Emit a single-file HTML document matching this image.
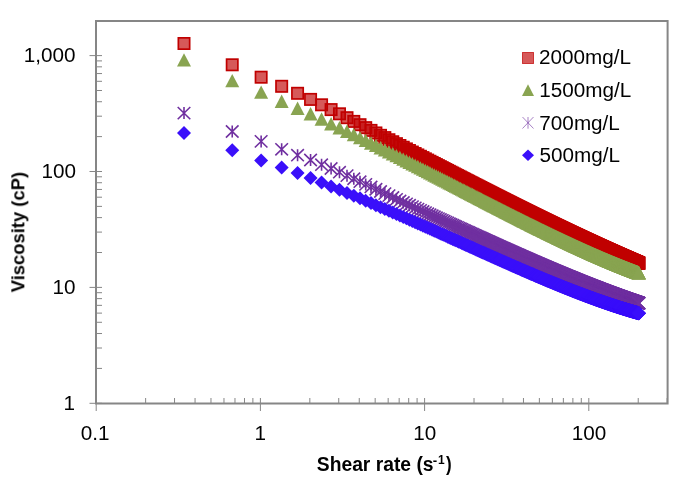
<!DOCTYPE html>
<html><head><meta charset="utf-8"><style>
html,body{margin:0;padding:0;background:#fff;}
svg{display:block;}
</style></head><body>
<svg width="700" height="485" viewBox="0 0 700 485">
<defs>
<rect id="s" x="-5.65" y="-5.65" width="11.3" height="11.3" fill="rgba(192,0,0,0.65)" stroke="#c00000" stroke-width="1.7"/>
<path id="t" d="M0 -6.7L7 6.7H-7Z" fill="#89a451"/>
<path id="a" d="M-6.3 -6.1L6.3 6.1M6.3 -6.1L-6.3 6.1M0 -6V6" stroke="#7030a0" stroke-width="1.6" fill="none"/>
<path id="d" d="M0 -7L7 0L0 7L-7 0Z" fill="#3a0ffa"/>
</defs>
<path d="M96.2 398V411M145.63 398V403M174.54 398V403M195.06 398V403M210.97 398V403M223.97 398V403M234.97 398V403M244.49 398V403M252.89 398V403M260.4 398V411M309.83 398V403M338.74 398V403M359.26 398V403M375.17 398V403M388.17 398V403M399.17 398V403M408.69 398V403M417.09 398V403M424.6 398V411M474.03 398V403M502.94 398V403M523.46 398V403M539.37 398V403M552.37 398V403M563.37 398V403M572.89 398V403M581.29 398V403M588.8 398V411M638.23 398V403M667.14 398V403M89.5 403.3H102M96 368.41H102M96 348H102M96 333.52H102M96 322.29H102M96 313.11H102M96 305.35H102M96 298.63H102M96 292.7H102M89.5 287.4H102M96 252.51H102M96 232.1H102M96 217.62H102M96 206.39H102M96 197.21H102M96 189.45H102M96 182.73H102M96 176.8H102M89.5 171.5H102M96 136.61H102M96 116.2H102M96 101.72H102M96 90.49H102M96 81.31H102M96 73.55H102M96 66.83H102M96 60.9H102M89.5 55.6H102M96 20.71H102" stroke="#868686" stroke-width="1" fill="none"/>
<path d="M96 21H667.6V403.4H96Z" stroke="#868686" stroke-width="2" fill="none"/>
<g>
<use href="#s" x="184" y="43.5"/>
<use href="#s" x="232.23" y="64.8"/>
<use href="#s" x="261.14" y="77.2"/>
<use href="#s" x="281.66" y="86.3"/>
<use href="#s" x="297.57" y="93.3"/>
<use href="#s" x="310.57" y="99.4"/>
<use href="#s" x="321.57" y="104.8"/>
<use href="#s" x="331.09" y="109.6"/>
<use href="#s" x="339.49" y="113.8"/>
<use href="#s" x="347" y="117.7"/>
<use href="#s" x="353.8" y="121.4"/>
<use href="#s" x="360" y="124.7"/>
<use href="#s" x="365.71" y="127.65"/>
<use href="#s" x="370.99" y="130.39"/>
<use href="#s" x="375.91" y="132.95"/>
<use href="#s" x="380.52" y="135.34"/>
<use href="#s" x="384.84" y="137.6"/>
<use href="#s" x="388.92" y="139.73"/>
<use href="#s" x="392.77" y="141.75"/>
<use href="#s" x="396.43" y="143.67"/>
<use href="#s" x="399.91" y="145.5"/>
<use href="#s" x="403.23" y="147.25"/>
<use href="#s" x="406.4" y="148.91"/>
<use href="#s" x="409.43" y="150.51"/>
<use href="#s" x="412.34" y="152.05"/>
<use href="#s" x="415.14" y="153.52"/>
<use href="#s" x="417.83" y="154.93"/>
<use href="#s" x="420.42" y="156.28"/>
<use href="#s" x="422.93" y="157.59"/>
<use href="#s" x="425.34" y="158.85"/>
<use href="#s" x="427.68" y="160.07"/>
<use href="#s" x="429.95" y="161.25"/>
<use href="#s" x="432.14" y="162.39"/>
<use href="#s" x="434.27" y="163.5"/>
<use href="#s" x="436.34" y="164.58"/>
<use href="#s" x="438.34" y="165.63"/>
<use href="#s" x="440.3" y="166.64"/>
<use href="#s" x="442.2" y="167.63"/>
<use href="#s" x="444.05" y="168.6"/>
<use href="#s" x="445.86" y="169.54"/>
<use href="#s" x="447.62" y="170.45"/>
<use href="#s" x="449.34" y="171.35"/>
<use href="#s" x="451.02" y="172.22"/>
<use href="#s" x="452.65" y="173.07"/>
<use href="#s" x="454.26" y="173.9"/>
<use href="#s" x="455.82" y="174.72"/>
<use href="#s" x="457.36" y="175.51"/>
<use href="#s" x="458.86" y="176.29"/>
<use href="#s" x="460.33" y="177.05"/>
<use href="#s" x="461.77" y="177.8"/>
<use href="#s" x="463.18" y="178.53"/>
<use href="#s" x="464.57" y="179.25"/>
<use href="#s" x="465.93" y="179.95"/>
<use href="#s" x="467.26" y="180.64"/>
<use href="#s" x="468.57" y="181.31"/>
<use href="#s" x="469.85" y="181.98"/>
<use href="#s" x="471.11" y="182.63"/>
<use href="#s" x="472.35" y="183.27"/>
<use href="#s" x="473.57" y="183.9"/>
<use href="#s" x="474.77" y="184.52"/>
<use href="#s" x="475.95" y="185.12"/>
<use href="#s" x="477.11" y="185.72"/>
<use href="#s" x="478.25" y="186.31"/>
<use href="#s" x="479.37" y="186.88"/>
<use href="#s" x="480.48" y="187.45"/>
<use href="#s" x="481.57" y="188.01"/>
<use href="#s" x="482.64" y="188.56"/>
<use href="#s" x="483.7" y="189.1"/>
<use href="#s" x="484.74" y="189.64"/>
<use href="#s" x="485.77" y="190.16"/>
<use href="#s" x="486.78" y="190.68"/>
<use href="#s" x="487.77" y="191.19"/>
<use href="#s" x="488.76" y="191.69"/>
<use href="#s" x="489.73" y="192.19"/>
<use href="#s" x="490.69" y="192.68"/>
<use href="#s" x="491.63" y="193.16"/>
<use href="#s" x="492.56" y="193.64"/>
<use href="#s" x="493.48" y="194.11"/>
<use href="#s" x="494.39" y="194.57"/>
<use href="#s" x="495.29" y="195.03"/>
<use href="#s" x="496.17" y="195.48"/>
<use href="#s" x="497.05" y="195.92"/>
<use href="#s" x="497.91" y="196.36"/>
<use href="#s" x="498.77" y="196.8"/>
<use href="#s" x="499.61" y="197.23"/>
<use href="#s" x="500.44" y="197.65"/>
<use href="#s" x="501.27" y="198.07"/>
<use href="#s" x="502.08" y="198.48"/>
<use href="#s" x="502.89" y="198.89"/>
<use href="#s" x="503.69" y="199.29"/>
<use href="#s" x="504.47" y="199.69"/>
<use href="#s" x="505.25" y="200.09"/>
<use href="#s" x="506.02" y="200.48"/>
<use href="#s" x="506.79" y="200.86"/>
<use href="#s" x="507.54" y="201.24"/>
<use href="#s" x="508.29" y="201.62"/>
<use href="#s" x="509.03" y="201.99"/>
<use href="#s" x="509.76" y="202.36"/>
<use href="#s" x="510.48" y="202.73"/>
<use href="#s" x="511.2" y="203.09"/>
<use href="#s" x="511.91" y="203.45"/>
<use href="#s" x="512.61" y="203.8"/>
<use href="#s" x="513.31" y="204.15"/>
<use href="#s" x="514" y="204.5"/>
<use href="#s" x="514.68" y="204.84"/>
<use href="#s" x="515.36" y="205.18"/>
<use href="#s" x="516.02" y="205.52"/>
<use href="#s" x="516.69" y="205.85"/>
<use href="#s" x="517.35" y="206.18"/>
<use href="#s" x="518" y="206.5"/>
<use href="#s" x="518.64" y="206.83"/>
<use href="#s" x="519.28" y="207.15"/>
<use href="#s" x="519.92" y="207.46"/>
<use href="#s" x="520.54" y="207.78"/>
<use href="#s" x="521.17" y="208.09"/>
<use href="#s" x="521.78" y="208.4"/>
<use href="#s" x="522.4" y="208.7"/>
<use href="#s" x="523" y="209.01"/>
<use href="#s" x="523.6" y="209.31"/>
<use href="#s" x="524.2" y="209.61"/>
<use href="#s" x="524.79" y="209.9"/>
<use href="#s" x="525.38" y="210.19"/>
<use href="#s" x="525.96" y="210.48"/>
<use href="#s" x="526.54" y="210.77"/>
<use href="#s" x="527.11" y="211.05"/>
<use href="#s" x="527.68" y="211.34"/>
<use href="#s" x="528.24" y="211.62"/>
<use href="#s" x="528.8" y="211.9"/>
<use href="#s" x="529.36" y="212.17"/>
<use href="#s" x="529.91" y="212.44"/>
<use href="#s" x="530.46" y="212.72"/>
<use href="#s" x="531" y="212.98"/>
<use href="#s" x="531.54" y="213.25"/>
<use href="#s" x="532.07" y="213.52"/>
<use href="#s" x="532.6" y="213.78"/>
<use href="#s" x="533.13" y="214.04"/>
<use href="#s" x="533.65" y="214.3"/>
<use href="#s" x="534.17" y="214.55"/>
<use href="#s" x="534.68" y="214.81"/>
<use href="#s" x="535.19" y="215.06"/>
<use href="#s" x="535.7" y="215.31"/>
<use href="#s" x="536.21" y="215.56"/>
<use href="#s" x="536.71" y="215.81"/>
<use href="#s" x="537.2" y="216.05"/>
<use href="#s" x="537.7" y="216.29"/>
<use href="#s" x="538.19" y="216.53"/>
<use href="#s" x="538.67" y="216.77"/>
<use href="#s" x="539.16" y="217.01"/>
<use href="#s" x="539.64" y="217.25"/>
<use href="#s" x="540.11" y="217.48"/>
<use href="#s" x="540.59" y="217.72"/>
<use href="#s" x="541.06" y="217.95"/>
<use href="#s" x="541.53" y="218.18"/>
<use href="#s" x="541.99" y="218.4"/>
<use href="#s" x="542.45" y="218.63"/>
<use href="#s" x="542.91" y="218.85"/>
<use href="#s" x="543.37" y="219.08"/>
<use href="#s" x="543.82" y="219.3"/>
<use href="#s" x="544.27" y="219.52"/>
<use href="#s" x="544.72" y="219.74"/>
<use href="#s" x="545.16" y="219.96"/>
<use href="#s" x="545.6" y="220.17"/>
<use href="#s" x="546.04" y="220.39"/>
<use href="#s" x="546.48" y="220.6"/>
<use href="#s" x="546.91" y="220.81"/>
<use href="#s" x="547.34" y="221.02"/>
<use href="#s" x="547.77" y="221.23"/>
<use href="#s" x="548.2" y="221.44"/>
<use href="#s" x="548.62" y="221.64"/>
<use href="#s" x="549.04" y="221.85"/>
<use href="#s" x="549.46" y="222.05"/>
<use href="#s" x="549.87" y="222.25"/>
<use href="#s" x="550.29" y="222.46"/>
<use href="#s" x="550.7" y="222.65"/>
<use href="#s" x="551.11" y="222.85"/>
<use href="#s" x="551.51" y="223.05"/>
<use href="#s" x="551.92" y="223.25"/>
<use href="#s" x="552.32" y="223.44"/>
<use href="#s" x="552.72" y="223.64"/>
<use href="#s" x="553.12" y="223.83"/>
<use href="#s" x="553.51" y="224.02"/>
<use href="#s" x="553.9" y="224.21"/>
<use href="#s" x="554.29" y="224.4"/>
<use href="#s" x="554.68" y="224.59"/>
<use href="#s" x="555.07" y="224.77"/>
<use href="#s" x="555.45" y="224.96"/>
<use href="#s" x="555.84" y="225.15"/>
<use href="#s" x="556.22" y="225.33"/>
<use href="#s" x="556.6" y="225.51"/>
<use href="#s" x="556.97" y="225.69"/>
<use href="#s" x="557.35" y="225.87"/>
<use href="#s" x="557.72" y="226.05"/>
<use href="#s" x="558.09" y="226.23"/>
<use href="#s" x="558.46" y="226.41"/>
<use href="#s" x="558.82" y="226.59"/>
<use href="#s" x="559.19" y="226.76"/>
<use href="#s" x="559.55" y="226.94"/>
<use href="#s" x="559.91" y="227.11"/>
<use href="#s" x="560.27" y="227.28"/>
<use href="#s" x="560.63" y="227.46"/>
<use href="#s" x="560.98" y="227.63"/>
<use href="#s" x="561.34" y="227.8"/>
<use href="#s" x="561.69" y="227.97"/>
<use href="#s" x="562.04" y="228.13"/>
<use href="#s" x="562.39" y="228.3"/>
<use href="#s" x="562.74" y="228.47"/>
<use href="#s" x="563.08" y="228.63"/>
<use href="#s" x="563.43" y="228.8"/>
<use href="#s" x="563.77" y="228.96"/>
<use href="#s" x="564.11" y="229.12"/>
<use href="#s" x="564.45" y="229.29"/>
<use href="#s" x="564.78" y="229.45"/>
<use href="#s" x="565.12" y="229.61"/>
<use href="#s" x="565.45" y="229.77"/>
<use href="#s" x="565.79" y="229.93"/>
<use href="#s" x="566.12" y="230.09"/>
<use href="#s" x="566.45" y="230.24"/>
<use href="#s" x="566.77" y="230.4"/>
<use href="#s" x="567.1" y="230.56"/>
<use href="#s" x="567.43" y="230.71"/>
<use href="#s" x="567.75" y="230.86"/>
<use href="#s" x="568.07" y="231.02"/>
<use href="#s" x="568.39" y="231.17"/>
<use href="#s" x="568.71" y="231.32"/>
<use href="#s" x="569.03" y="231.47"/>
<use href="#s" x="569.34" y="231.62"/>
<use href="#s" x="569.66" y="231.77"/>
<use href="#s" x="569.97" y="231.92"/>
<use href="#s" x="570.28" y="232.07"/>
<use href="#s" x="570.6" y="232.22"/>
<use href="#s" x="570.91" y="232.37"/>
<use href="#s" x="571.21" y="232.51"/>
<use href="#s" x="571.52" y="232.66"/>
<use href="#s" x="571.83" y="232.8"/>
<use href="#s" x="572.13" y="232.95"/>
<use href="#s" x="572.43" y="233.09"/>
<use href="#s" x="572.73" y="233.23"/>
<use href="#s" x="573.03" y="233.38"/>
<use href="#s" x="573.33" y="233.52"/>
<use href="#s" x="573.63" y="233.66"/>
<use href="#s" x="573.93" y="233.8"/>
<use href="#s" x="574.22" y="233.94"/>
<use href="#s" x="574.52" y="234.08"/>
<use href="#s" x="574.81" y="234.22"/>
<use href="#s" x="575.1" y="234.35"/>
<use href="#s" x="575.39" y="234.49"/>
<use href="#s" x="575.68" y="234.63"/>
<use href="#s" x="575.97" y="234.76"/>
<use href="#s" x="576.26" y="234.9"/>
<use href="#s" x="576.54" y="235.03"/>
<use href="#s" x="576.83" y="235.17"/>
<use href="#s" x="577.11" y="235.3"/>
<use href="#s" x="577.39" y="235.43"/>
<use href="#s" x="577.67" y="235.57"/>
<use href="#s" x="577.95" y="235.7"/>
<use href="#s" x="578.23" y="235.83"/>
<use href="#s" x="578.51" y="235.96"/>
<use href="#s" x="578.79" y="236.09"/>
<use href="#s" x="579.06" y="236.22"/>
<use href="#s" x="579.34" y="236.35"/>
<use href="#s" x="579.61" y="236.48"/>
<use href="#s" x="579.89" y="236.61"/>
<use href="#s" x="580.16" y="236.73"/>
<use href="#s" x="580.43" y="236.86"/>
<use href="#s" x="580.7" y="236.99"/>
<use href="#s" x="580.97" y="237.11"/>
<use href="#s" x="581.23" y="237.24"/>
<use href="#s" x="581.5" y="237.36"/>
<use href="#s" x="581.77" y="237.49"/>
<use href="#s" x="582.03" y="237.61"/>
<use href="#s" x="582.29" y="237.74"/>
<use href="#s" x="582.56" y="237.86"/>
<use href="#s" x="582.82" y="237.98"/>
<use href="#s" x="583.08" y="238.1"/>
<use href="#s" x="583.34" y="238.23"/>
<use href="#s" x="583.6" y="238.35"/>
<use href="#s" x="583.86" y="238.47"/>
<use href="#s" x="584.11" y="238.59"/>
<use href="#s" x="584.37" y="238.71"/>
<use href="#s" x="584.62" y="238.83"/>
<use href="#s" x="584.88" y="238.94"/>
<use href="#s" x="585.13" y="239.06"/>
<use href="#s" x="585.38" y="239.18"/>
<use href="#s" x="585.63" y="239.3"/>
<use href="#s" x="585.89" y="239.41"/>
<use href="#s" x="586.14" y="239.53"/>
<use href="#s" x="586.38" y="239.65"/>
<use href="#s" x="586.63" y="239.76"/>
<use href="#s" x="586.88" y="239.88"/>
<use href="#s" x="587.13" y="239.99"/>
<use href="#s" x="587.37" y="240.11"/>
<use href="#s" x="587.62" y="240.22"/>
<use href="#s" x="587.86" y="240.33"/>
<use href="#s" x="588.1" y="240.45"/>
<use href="#s" x="588.34" y="240.56"/>
<use href="#s" x="588.59" y="240.67"/>
<use href="#s" x="588.83" y="240.78"/>
<use href="#s" x="589.07" y="240.89"/>
<use href="#s" x="589.31" y="241"/>
<use href="#s" x="589.54" y="241.11"/>
<use href="#s" x="589.78" y="241.22"/>
<use href="#s" x="590.02" y="241.33"/>
<use href="#s" x="590.25" y="241.44"/>
<use href="#s" x="590.49" y="241.55"/>
<use href="#s" x="590.72" y="241.66"/>
<use href="#s" x="590.96" y="241.77"/>
<use href="#s" x="591.19" y="241.88"/>
<use href="#s" x="591.42" y="241.98"/>
<use href="#s" x="591.65" y="242.09"/>
<use href="#s" x="591.88" y="242.2"/>
<use href="#s" x="592.11" y="242.3"/>
<use href="#s" x="592.34" y="242.41"/>
<use href="#s" x="592.57" y="242.51"/>
<use href="#s" x="592.8" y="242.62"/>
<use href="#s" x="593.02" y="242.72"/>
<use href="#s" x="593.25" y="242.83"/>
<use href="#s" x="593.47" y="242.93"/>
<use href="#s" x="593.7" y="243.04"/>
<use href="#s" x="593.92" y="243.14"/>
<use href="#s" x="594.15" y="243.24"/>
<use href="#s" x="594.37" y="243.34"/>
<use href="#s" x="594.59" y="243.45"/>
<use href="#s" x="594.81" y="243.55"/>
<use href="#s" x="595.03" y="243.65"/>
<use href="#s" x="595.25" y="243.75"/>
<use href="#s" x="595.47" y="243.85"/>
<use href="#s" x="595.69" y="243.95"/>
<use href="#s" x="595.91" y="244.05"/>
<use href="#s" x="596.12" y="244.15"/>
<use href="#s" x="596.34" y="244.25"/>
<use href="#s" x="596.56" y="244.35"/>
<use href="#s" x="596.77" y="244.45"/>
<use href="#s" x="596.99" y="244.55"/>
<use href="#s" x="597.2" y="244.64"/>
<use href="#s" x="597.41" y="244.74"/>
<use href="#s" x="597.62" y="244.84"/>
<use href="#s" x="597.84" y="244.94"/>
<use href="#s" x="598.05" y="245.03"/>
<use href="#s" x="598.26" y="245.13"/>
<use href="#s" x="598.47" y="245.23"/>
<use href="#s" x="598.68" y="245.32"/>
<use href="#s" x="598.89" y="245.42"/>
<use href="#s" x="599.1" y="245.51"/>
<use href="#s" x="599.3" y="245.61"/>
<use href="#s" x="599.51" y="245.7"/>
<use href="#s" x="599.72" y="245.8"/>
<use href="#s" x="599.92" y="245.89"/>
<use href="#s" x="600.13" y="245.98"/>
<use href="#s" x="600.33" y="246.08"/>
<use href="#s" x="600.54" y="246.17"/>
<use href="#s" x="600.74" y="246.26"/>
<use href="#s" x="600.94" y="246.36"/>
<use href="#s" x="601.14" y="246.45"/>
<use href="#s" x="601.35" y="246.54"/>
<use href="#s" x="601.55" y="246.63"/>
<use href="#s" x="601.75" y="246.72"/>
<use href="#s" x="601.95" y="246.82"/>
<use href="#s" x="602.15" y="246.91"/>
<use href="#s" x="602.35" y="247"/>
<use href="#s" x="602.54" y="247.09"/>
<use href="#s" x="602.74" y="247.18"/>
<use href="#s" x="602.94" y="247.27"/>
<use href="#s" x="603.14" y="247.36"/>
<use href="#s" x="603.33" y="247.45"/>
<use href="#s" x="603.53" y="247.53"/>
<use href="#s" x="603.72" y="247.62"/>
<use href="#s" x="603.92" y="247.71"/>
<use href="#s" x="604.11" y="247.8"/>
<use href="#s" x="604.31" y="247.89"/>
<use href="#s" x="604.5" y="247.98"/>
<use href="#s" x="604.69" y="248.06"/>
<use href="#s" x="604.88" y="248.15"/>
<use href="#s" x="605.07" y="248.24"/>
<use href="#s" x="605.27" y="248.32"/>
<use href="#s" x="605.46" y="248.41"/>
<use href="#s" x="605.65" y="248.5"/>
<use href="#s" x="605.84" y="248.58"/>
<use href="#s" x="606.02" y="248.67"/>
<use href="#s" x="606.21" y="248.75"/>
<use href="#s" x="606.4" y="248.84"/>
<use href="#s" x="606.59" y="248.92"/>
<use href="#s" x="606.77" y="249.01"/>
<use href="#s" x="606.96" y="249.09"/>
<use href="#s" x="607.15" y="249.17"/>
<use href="#s" x="607.33" y="249.26"/>
<use href="#s" x="607.52" y="249.34"/>
<use href="#s" x="607.7" y="249.43"/>
<use href="#s" x="607.89" y="249.51"/>
<use href="#s" x="608.07" y="249.59"/>
<use href="#s" x="608.25" y="249.67"/>
<use href="#s" x="608.44" y="249.76"/>
<use href="#s" x="608.62" y="249.84"/>
<use href="#s" x="608.8" y="249.92"/>
<use href="#s" x="608.98" y="250"/>
<use href="#s" x="609.16" y="250.08"/>
<use href="#s" x="609.34" y="250.16"/>
<use href="#s" x="609.52" y="250.25"/>
<use href="#s" x="609.7" y="250.33"/>
<use href="#s" x="609.88" y="250.41"/>
<use href="#s" x="610.06" y="250.49"/>
<use href="#s" x="610.24" y="250.57"/>
<use href="#s" x="610.41" y="250.65"/>
<use href="#s" x="610.59" y="250.73"/>
<use href="#s" x="610.77" y="250.81"/>
<use href="#s" x="610.94" y="250.89"/>
<use href="#s" x="611.12" y="250.96"/>
<use href="#s" x="611.3" y="251.04"/>
<use href="#s" x="611.47" y="251.12"/>
<use href="#s" x="611.64" y="251.2"/>
<use href="#s" x="611.82" y="251.28"/>
<use href="#s" x="611.99" y="251.36"/>
<use href="#s" x="612.17" y="251.43"/>
<use href="#s" x="612.34" y="251.51"/>
<use href="#s" x="612.51" y="251.59"/>
<use href="#s" x="612.68" y="251.67"/>
<use href="#s" x="612.86" y="251.74"/>
<use href="#s" x="613.03" y="251.82"/>
<use href="#s" x="613.2" y="251.9"/>
<use href="#s" x="613.37" y="251.97"/>
<use href="#s" x="613.54" y="252.05"/>
<use href="#s" x="613.71" y="252.12"/>
<use href="#s" x="613.88" y="252.2"/>
<use href="#s" x="614.05" y="252.28"/>
<use href="#s" x="614.21" y="252.35"/>
<use href="#s" x="614.38" y="252.43"/>
<use href="#s" x="614.55" y="252.5"/>
<use href="#s" x="614.72" y="252.58"/>
<use href="#s" x="614.88" y="252.65"/>
<use href="#s" x="615.05" y="252.72"/>
<use href="#s" x="615.22" y="252.8"/>
<use href="#s" x="615.38" y="252.87"/>
<use href="#s" x="615.55" y="252.95"/>
<use href="#s" x="615.71" y="253.02"/>
<use href="#s" x="615.88" y="253.09"/>
<use href="#s" x="616.04" y="253.17"/>
<use href="#s" x="616.2" y="253.24"/>
<use href="#s" x="616.37" y="253.31"/>
<use href="#s" x="616.53" y="253.39"/>
<use href="#s" x="616.69" y="253.46"/>
<use href="#s" x="616.85" y="253.53"/>
<use href="#s" x="617.02" y="253.6"/>
<use href="#s" x="617.18" y="253.67"/>
<use href="#s" x="617.34" y="253.75"/>
<use href="#s" x="617.5" y="253.82"/>
<use href="#s" x="617.66" y="253.89"/>
<use href="#s" x="617.82" y="253.96"/>
<use href="#s" x="617.98" y="254.03"/>
<use href="#s" x="618.14" y="254.1"/>
<use href="#s" x="618.3" y="254.17"/>
<use href="#s" x="618.46" y="254.24"/>
<use href="#s" x="618.62" y="254.31"/>
<use href="#s" x="618.77" y="254.38"/>
<use href="#s" x="618.93" y="254.45"/>
<use href="#s" x="619.09" y="254.52"/>
<use href="#s" x="619.25" y="254.59"/>
<use href="#s" x="619.4" y="254.66"/>
<use href="#s" x="619.56" y="254.73"/>
<use href="#s" x="619.71" y="254.8"/>
<use href="#s" x="619.87" y="254.87"/>
<use href="#s" x="620.02" y="254.94"/>
<use href="#s" x="620.18" y="255.01"/>
<use href="#s" x="620.33" y="255.07"/>
<use href="#s" x="620.49" y="255.14"/>
<use href="#s" x="620.64" y="255.21"/>
<use href="#s" x="620.8" y="255.28"/>
<use href="#s" x="620.95" y="255.35"/>
<use href="#s" x="621.1" y="255.41"/>
<use href="#s" x="621.25" y="255.48"/>
<use href="#s" x="621.41" y="255.55"/>
<use href="#s" x="621.56" y="255.62"/>
<use href="#s" x="621.71" y="255.68"/>
<use href="#s" x="621.86" y="255.75"/>
<use href="#s" x="622.01" y="255.82"/>
<use href="#s" x="622.16" y="255.88"/>
<use href="#s" x="622.31" y="255.95"/>
<use href="#s" x="622.46" y="256.02"/>
<use href="#s" x="622.61" y="256.08"/>
<use href="#s" x="622.76" y="256.15"/>
<use href="#s" x="622.91" y="256.21"/>
<use href="#s" x="623.06" y="256.28"/>
<use href="#s" x="623.21" y="256.34"/>
<use href="#s" x="623.36" y="256.41"/>
<use href="#s" x="623.5" y="256.47"/>
<use href="#s" x="623.65" y="256.54"/>
<use href="#s" x="623.8" y="256.6"/>
<use href="#s" x="623.95" y="256.67"/>
<use href="#s" x="624.09" y="256.73"/>
<use href="#s" x="624.24" y="256.8"/>
<use href="#s" x="624.38" y="256.86"/>
<use href="#s" x="624.53" y="256.93"/>
<use href="#s" x="624.68" y="256.99"/>
<use href="#s" x="624.82" y="257.05"/>
<use href="#s" x="624.97" y="257.12"/>
<use href="#s" x="625.11" y="257.18"/>
<use href="#s" x="625.25" y="257.24"/>
<use href="#s" x="625.4" y="257.31"/>
<use href="#s" x="625.54" y="257.37"/>
<use href="#s" x="625.69" y="257.43"/>
<use href="#s" x="625.83" y="257.5"/>
<use href="#s" x="625.97" y="257.56"/>
<use href="#s" x="626.11" y="257.62"/>
<use href="#s" x="626.26" y="257.68"/>
<use href="#s" x="626.4" y="257.75"/>
<use href="#s" x="626.54" y="257.81"/>
<use href="#s" x="626.68" y="257.87"/>
<use href="#s" x="626.82" y="257.93"/>
<use href="#s" x="626.96" y="257.99"/>
<use href="#s" x="627.1" y="258.05"/>
<use href="#s" x="627.24" y="258.12"/>
<use href="#s" x="627.38" y="258.18"/>
<use href="#s" x="627.52" y="258.24"/>
<use href="#s" x="627.66" y="258.3"/>
<use href="#s" x="627.8" y="258.36"/>
<use href="#s" x="627.94" y="258.42"/>
<use href="#s" x="628.08" y="258.48"/>
<use href="#s" x="628.22" y="258.54"/>
<use href="#s" x="628.36" y="258.6"/>
<use href="#s" x="628.49" y="258.66"/>
<use href="#s" x="628.63" y="258.72"/>
<use href="#s" x="628.77" y="258.78"/>
<use href="#s" x="628.9" y="258.84"/>
<use href="#s" x="629.04" y="258.9"/>
<use href="#s" x="629.18" y="258.96"/>
<use href="#s" x="629.31" y="259.02"/>
<use href="#s" x="629.45" y="259.08"/>
<use href="#s" x="629.59" y="259.14"/>
<use href="#s" x="629.72" y="259.2"/>
<use href="#s" x="629.86" y="259.26"/>
<use href="#s" x="629.99" y="259.32"/>
<use href="#s" x="630.13" y="259.38"/>
<use href="#s" x="630.26" y="259.43"/>
<use href="#s" x="630.39" y="259.49"/>
<use href="#s" x="630.53" y="259.55"/>
<use href="#s" x="630.66" y="259.61"/>
<use href="#s" x="630.8" y="259.67"/>
<use href="#s" x="630.93" y="259.72"/>
<use href="#s" x="631.06" y="259.78"/>
<use href="#s" x="631.19" y="259.84"/>
<use href="#s" x="631.33" y="259.9"/>
<use href="#s" x="631.46" y="259.96"/>
<use href="#s" x="631.59" y="260.01"/>
<use href="#s" x="631.72" y="260.07"/>
<use href="#s" x="631.85" y="260.13"/>
<use href="#s" x="631.99" y="260.18"/>
<use href="#s" x="632.12" y="260.24"/>
<use href="#s" x="632.25" y="260.3"/>
<use href="#s" x="632.38" y="260.35"/>
<use href="#s" x="632.51" y="260.41"/>
<use href="#s" x="632.64" y="260.47"/>
<use href="#s" x="632.77" y="260.52"/>
<use href="#s" x="632.9" y="260.58"/>
<use href="#s" x="633.03" y="260.64"/>
<use href="#s" x="633.16" y="260.69"/>
<use href="#s" x="633.28" y="260.75"/>
<use href="#s" x="633.41" y="260.8"/>
<use href="#s" x="633.54" y="260.86"/>
<use href="#s" x="633.67" y="260.91"/>
<use href="#s" x="633.8" y="260.97"/>
<use href="#s" x="633.93" y="261.02"/>
<use href="#s" x="634.05" y="261.08"/>
<use href="#s" x="634.18" y="261.13"/>
<use href="#s" x="634.31" y="261.19"/>
<use href="#s" x="634.43" y="261.24"/>
<use href="#s" x="634.56" y="261.3"/>
<use href="#s" x="634.69" y="261.35"/>
<use href="#s" x="634.81" y="261.41"/>
<use href="#s" x="634.94" y="261.46"/>
<use href="#s" x="635.06" y="261.52"/>
<use href="#s" x="635.19" y="261.57"/>
<use href="#s" x="635.31" y="261.63"/>
<use href="#s" x="635.44" y="261.68"/>
<use href="#s" x="635.56" y="261.73"/>
<use href="#s" x="635.69" y="261.79"/>
<use href="#s" x="635.81" y="261.84"/>
<use href="#s" x="635.94" y="261.89"/>
<use href="#s" x="636.06" y="261.95"/>
<use href="#s" x="636.19" y="262"/>
<use href="#s" x="636.31" y="262.05"/>
<use href="#s" x="636.43" y="262.11"/>
<use href="#s" x="636.55" y="262.16"/>
<use href="#s" x="636.68" y="262.21"/>
<use href="#s" x="636.8" y="262.27"/>
<use href="#s" x="636.92" y="262.32"/>
<use href="#s" x="637.04" y="262.37"/>
<use href="#s" x="637.17" y="262.42"/>
<use href="#s" x="637.29" y="262.48"/>
<use href="#s" x="637.41" y="262.53"/>
<use href="#s" x="637.53" y="262.58"/>
<use href="#s" x="637.65" y="262.63"/>
<use href="#s" x="637.77" y="262.68"/>
<use href="#s" x="637.89" y="262.74"/>
<use href="#s" x="638.02" y="262.79"/>
<use href="#s" x="638.14" y="262.84"/>
<use href="#s" x="638.26" y="262.89"/>
<use href="#s" x="638.38" y="262.94"/>
<use href="#s" x="638.5" y="262.99"/>
<use href="#s" x="638.61" y="263.05"/>
<use href="#s" x="638.73" y="263.1"/>
<use href="#s" x="638.85" y="263.15"/>
<use href="#s" x="638.97" y="263.2"/>
<use href="#t" x="184" y="59.9"/>
<use href="#t" x="232.23" y="80.6"/>
<use href="#t" x="261.14" y="92.1"/>
<use href="#t" x="281.66" y="101.3"/>
<use href="#t" x="297.57" y="108.3"/>
<use href="#t" x="310.57" y="113.8"/>
<use href="#t" x="321.57" y="119"/>
<use href="#t" x="331.09" y="123.7"/>
<use href="#t" x="339.49" y="127.69"/>
<use href="#t" x="347" y="131.29"/>
<use href="#t" x="353.8" y="134.57"/>
<use href="#t" x="360" y="137.58"/>
<use href="#t" x="365.71" y="140.38"/>
<use href="#t" x="370.99" y="142.98"/>
<use href="#t" x="375.91" y="145.41"/>
<use href="#t" x="380.52" y="147.69"/>
<use href="#t" x="384.84" y="149.85"/>
<use href="#t" x="388.92" y="151.89"/>
<use href="#t" x="392.77" y="153.82"/>
<use href="#t" x="396.43" y="155.66"/>
<use href="#t" x="399.91" y="157.41"/>
<use href="#t" x="403.23" y="159.09"/>
<use href="#t" x="406.4" y="160.69"/>
<use href="#t" x="409.43" y="162.23"/>
<use href="#t" x="412.34" y="163.71"/>
<use href="#t" x="415.14" y="165.14"/>
<use href="#t" x="417.83" y="166.51"/>
<use href="#t" x="420.42" y="167.83"/>
<use href="#t" x="422.93" y="169.11"/>
<use href="#t" x="425.34" y="170.35"/>
<use href="#t" x="427.68" y="171.55"/>
<use href="#t" x="429.95" y="172.71"/>
<use href="#t" x="432.14" y="173.83"/>
<use href="#t" x="434.27" y="174.93"/>
<use href="#t" x="436.34" y="175.99"/>
<use href="#t" x="438.34" y="177.02"/>
<use href="#t" x="440.3" y="178.03"/>
<use href="#t" x="442.2" y="179.01"/>
<use href="#t" x="444.05" y="179.96"/>
<use href="#t" x="445.86" y="180.89"/>
<use href="#t" x="447.62" y="181.8"/>
<use href="#t" x="449.34" y="182.69"/>
<use href="#t" x="451.02" y="183.55"/>
<use href="#t" x="452.65" y="184.4"/>
<use href="#t" x="454.26" y="185.22"/>
<use href="#t" x="455.82" y="186.03"/>
<use href="#t" x="457.36" y="186.83"/>
<use href="#t" x="458.86" y="187.6"/>
<use href="#t" x="460.33" y="188.36"/>
<use href="#t" x="461.77" y="189.1"/>
<use href="#t" x="463.18" y="189.83"/>
<use href="#t" x="464.57" y="190.55"/>
<use href="#t" x="465.93" y="191.25"/>
<use href="#t" x="467.26" y="191.94"/>
<use href="#t" x="468.57" y="192.61"/>
<use href="#t" x="469.85" y="193.27"/>
<use href="#t" x="471.11" y="193.93"/>
<use href="#t" x="472.35" y="194.57"/>
<use href="#t" x="473.57" y="195.19"/>
<use href="#t" x="474.77" y="195.81"/>
<use href="#t" x="475.95" y="196.42"/>
<use href="#t" x="477.11" y="197.02"/>
<use href="#t" x="478.25" y="197.61"/>
<use href="#t" x="479.37" y="198.19"/>
<use href="#t" x="480.48" y="198.75"/>
<use href="#t" x="481.57" y="199.32"/>
<use href="#t" x="482.64" y="199.87"/>
<use href="#t" x="483.7" y="200.41"/>
<use href="#t" x="484.74" y="200.95"/>
<use href="#t" x="485.77" y="201.47"/>
<use href="#t" x="486.78" y="201.99"/>
<use href="#t" x="487.77" y="202.51"/>
<use href="#t" x="488.76" y="203.01"/>
<use href="#t" x="489.73" y="203.51"/>
<use href="#t" x="490.69" y="204"/>
<use href="#t" x="491.63" y="204.49"/>
<use href="#t" x="492.56" y="204.97"/>
<use href="#t" x="493.48" y="205.44"/>
<use href="#t" x="494.39" y="205.9"/>
<use href="#t" x="495.29" y="206.36"/>
<use href="#t" x="496.17" y="206.82"/>
<use href="#t" x="497.05" y="207.26"/>
<use href="#t" x="497.91" y="207.71"/>
<use href="#t" x="498.77" y="208.14"/>
<use href="#t" x="499.61" y="208.57"/>
<use href="#t" x="500.44" y="209"/>
<use href="#t" x="501.27" y="209.42"/>
<use href="#t" x="502.08" y="209.84"/>
<use href="#t" x="502.89" y="210.25"/>
<use href="#t" x="503.69" y="210.66"/>
<use href="#t" x="504.47" y="211.06"/>
<use href="#t" x="505.25" y="211.45"/>
<use href="#t" x="506.02" y="211.85"/>
<use href="#t" x="506.79" y="212.23"/>
<use href="#t" x="507.54" y="212.62"/>
<use href="#t" x="508.29" y="213"/>
<use href="#t" x="509.03" y="213.37"/>
<use href="#t" x="509.76" y="213.75"/>
<use href="#t" x="510.48" y="214.11"/>
<use href="#t" x="511.2" y="214.48"/>
<use href="#t" x="511.91" y="214.84"/>
<use href="#t" x="512.61" y="215.19"/>
<use href="#t" x="513.31" y="215.54"/>
<use href="#t" x="514" y="215.89"/>
<use href="#t" x="514.68" y="216.24"/>
<use href="#t" x="515.36" y="216.58"/>
<use href="#t" x="516.02" y="216.92"/>
<use href="#t" x="516.69" y="217.25"/>
<use href="#t" x="517.35" y="217.59"/>
<use href="#t" x="518" y="217.91"/>
<use href="#t" x="518.64" y="218.24"/>
<use href="#t" x="519.28" y="218.56"/>
<use href="#t" x="519.92" y="218.88"/>
<use href="#t" x="520.54" y="219.2"/>
<use href="#t" x="521.17" y="219.51"/>
<use href="#t" x="521.78" y="219.82"/>
<use href="#t" x="522.4" y="220.13"/>
<use href="#t" x="523" y="220.43"/>
<use href="#t" x="523.6" y="220.74"/>
<use href="#t" x="524.2" y="221.04"/>
<use href="#t" x="524.79" y="221.33"/>
<use href="#t" x="525.38" y="221.63"/>
<use href="#t" x="525.96" y="221.92"/>
<use href="#t" x="526.54" y="222.21"/>
<use href="#t" x="527.11" y="222.49"/>
<use href="#t" x="527.68" y="222.78"/>
<use href="#t" x="528.24" y="223.06"/>
<use href="#t" x="528.8" y="223.34"/>
<use href="#t" x="529.36" y="223.62"/>
<use href="#t" x="529.91" y="223.89"/>
<use href="#t" x="530.46" y="224.16"/>
<use href="#t" x="531" y="224.43"/>
<use href="#t" x="531.54" y="224.7"/>
<use href="#t" x="532.07" y="224.97"/>
<use href="#t" x="532.6" y="225.23"/>
<use href="#t" x="533.13" y="225.49"/>
<use href="#t" x="533.65" y="225.75"/>
<use href="#t" x="534.17" y="226.01"/>
<use href="#t" x="534.68" y="226.26"/>
<use href="#t" x="535.19" y="226.52"/>
<use href="#t" x="535.7" y="226.77"/>
<use href="#t" x="536.21" y="227.02"/>
<use href="#t" x="536.71" y="227.26"/>
<use href="#t" x="537.2" y="227.51"/>
<use href="#t" x="537.7" y="227.75"/>
<use href="#t" x="538.19" y="228"/>
<use href="#t" x="538.67" y="228.24"/>
<use href="#t" x="539.16" y="228.47"/>
<use href="#t" x="539.64" y="228.71"/>
<use href="#t" x="540.11" y="228.95"/>
<use href="#t" x="540.59" y="229.18"/>
<use href="#t" x="541.06" y="229.41"/>
<use href="#t" x="541.53" y="229.64"/>
<use href="#t" x="541.99" y="229.87"/>
<use href="#t" x="542.45" y="230.1"/>
<use href="#t" x="542.91" y="230.32"/>
<use href="#t" x="543.37" y="230.54"/>
<use href="#t" x="543.82" y="230.77"/>
<use href="#t" x="544.27" y="230.99"/>
<use href="#t" x="544.72" y="231.21"/>
<use href="#t" x="545.16" y="231.42"/>
<use href="#t" x="545.6" y="231.64"/>
<use href="#t" x="546.04" y="231.85"/>
<use href="#t" x="546.48" y="232.07"/>
<use href="#t" x="546.91" y="232.28"/>
<use href="#t" x="547.34" y="232.49"/>
<use href="#t" x="547.77" y="232.7"/>
<use href="#t" x="548.2" y="232.9"/>
<use href="#t" x="548.62" y="233.11"/>
<use href="#t" x="549.04" y="233.31"/>
<use href="#t" x="549.46" y="233.52"/>
<use href="#t" x="549.87" y="233.72"/>
<use href="#t" x="550.29" y="233.92"/>
<use href="#t" x="550.7" y="234.12"/>
<use href="#t" x="551.11" y="234.32"/>
<use href="#t" x="551.51" y="234.51"/>
<use href="#t" x="551.92" y="234.71"/>
<use href="#t" x="552.32" y="234.9"/>
<use href="#t" x="552.72" y="235.1"/>
<use href="#t" x="553.12" y="235.29"/>
<use href="#t" x="553.51" y="235.48"/>
<use href="#t" x="553.9" y="235.67"/>
<use href="#t" x="554.29" y="235.86"/>
<use href="#t" x="554.68" y="236.05"/>
<use href="#t" x="555.07" y="236.23"/>
<use href="#t" x="555.45" y="236.42"/>
<use href="#t" x="555.84" y="236.6"/>
<use href="#t" x="556.22" y="236.78"/>
<use href="#t" x="556.6" y="236.97"/>
<use href="#t" x="556.97" y="237.15"/>
<use href="#t" x="557.35" y="237.33"/>
<use href="#t" x="557.72" y="237.5"/>
<use href="#t" x="558.09" y="237.68"/>
<use href="#t" x="558.46" y="237.86"/>
<use href="#t" x="558.82" y="238.03"/>
<use href="#t" x="559.19" y="238.21"/>
<use href="#t" x="559.55" y="238.38"/>
<use href="#t" x="559.91" y="238.55"/>
<use href="#t" x="560.27" y="238.73"/>
<use href="#t" x="560.63" y="238.9"/>
<use href="#t" x="560.98" y="239.07"/>
<use href="#t" x="561.34" y="239.23"/>
<use href="#t" x="561.69" y="239.4"/>
<use href="#t" x="562.04" y="239.57"/>
<use href="#t" x="562.39" y="239.73"/>
<use href="#t" x="562.74" y="239.9"/>
<use href="#t" x="563.08" y="240.06"/>
<use href="#t" x="563.43" y="240.23"/>
<use href="#t" x="563.77" y="240.39"/>
<use href="#t" x="564.11" y="240.55"/>
<use href="#t" x="564.45" y="240.71"/>
<use href="#t" x="564.78" y="240.87"/>
<use href="#t" x="565.12" y="241.03"/>
<use href="#t" x="565.45" y="241.19"/>
<use href="#t" x="565.79" y="241.34"/>
<use href="#t" x="566.12" y="241.5"/>
<use href="#t" x="566.45" y="241.66"/>
<use href="#t" x="566.77" y="241.81"/>
<use href="#t" x="567.1" y="241.96"/>
<use href="#t" x="567.43" y="242.12"/>
<use href="#t" x="567.75" y="242.27"/>
<use href="#t" x="568.07" y="242.42"/>
<use href="#t" x="568.39" y="242.57"/>
<use href="#t" x="568.71" y="242.72"/>
<use href="#t" x="569.03" y="242.87"/>
<use href="#t" x="569.34" y="243.02"/>
<use href="#t" x="569.66" y="243.17"/>
<use href="#t" x="569.97" y="243.31"/>
<use href="#t" x="570.28" y="243.46"/>
<use href="#t" x="570.6" y="243.61"/>
<use href="#t" x="570.91" y="243.75"/>
<use href="#t" x="571.21" y="243.89"/>
<use href="#t" x="571.52" y="244.04"/>
<use href="#t" x="571.83" y="244.18"/>
<use href="#t" x="572.13" y="244.32"/>
<use href="#t" x="572.43" y="244.46"/>
<use href="#t" x="572.73" y="244.6"/>
<use href="#t" x="573.03" y="244.74"/>
<use href="#t" x="573.33" y="244.88"/>
<use href="#t" x="573.63" y="245.02"/>
<use href="#t" x="573.93" y="245.16"/>
<use href="#t" x="574.22" y="245.3"/>
<use href="#t" x="574.52" y="245.43"/>
<use href="#t" x="574.81" y="245.57"/>
<use href="#t" x="575.1" y="245.7"/>
<use href="#t" x="575.39" y="245.84"/>
<use href="#t" x="575.68" y="245.97"/>
<use href="#t" x="575.97" y="246.1"/>
<use href="#t" x="576.26" y="246.24"/>
<use href="#t" x="576.54" y="246.37"/>
<use href="#t" x="576.83" y="246.5"/>
<use href="#t" x="577.11" y="246.63"/>
<use href="#t" x="577.39" y="246.76"/>
<use href="#t" x="577.67" y="246.89"/>
<use href="#t" x="577.95" y="247.02"/>
<use href="#t" x="578.23" y="247.15"/>
<use href="#t" x="578.51" y="247.28"/>
<use href="#t" x="578.79" y="247.4"/>
<use href="#t" x="579.06" y="247.53"/>
<use href="#t" x="579.34" y="247.66"/>
<use href="#t" x="579.61" y="247.78"/>
<use href="#t" x="579.89" y="247.91"/>
<use href="#t" x="580.16" y="248.03"/>
<use href="#t" x="580.43" y="248.16"/>
<use href="#t" x="580.7" y="248.28"/>
<use href="#t" x="580.97" y="248.4"/>
<use href="#t" x="581.23" y="248.52"/>
<use href="#t" x="581.5" y="248.65"/>
<use href="#t" x="581.77" y="248.77"/>
<use href="#t" x="582.03" y="248.89"/>
<use href="#t" x="582.29" y="249.01"/>
<use href="#t" x="582.56" y="249.13"/>
<use href="#t" x="582.82" y="249.25"/>
<use href="#t" x="583.08" y="249.37"/>
<use href="#t" x="583.34" y="249.48"/>
<use href="#t" x="583.6" y="249.6"/>
<use href="#t" x="583.86" y="249.72"/>
<use href="#t" x="584.11" y="249.84"/>
<use href="#t" x="584.37" y="249.95"/>
<use href="#t" x="584.62" y="250.07"/>
<use href="#t" x="584.88" y="250.18"/>
<use href="#t" x="585.13" y="250.3"/>
<use href="#t" x="585.38" y="250.41"/>
<use href="#t" x="585.63" y="250.52"/>
<use href="#t" x="585.89" y="250.64"/>
<use href="#t" x="586.14" y="250.75"/>
<use href="#t" x="586.38" y="250.86"/>
<use href="#t" x="586.63" y="250.98"/>
<use href="#t" x="586.88" y="251.09"/>
<use href="#t" x="587.13" y="251.2"/>
<use href="#t" x="587.37" y="251.31"/>
<use href="#t" x="587.62" y="251.42"/>
<use href="#t" x="587.86" y="251.53"/>
<use href="#t" x="588.1" y="251.64"/>
<use href="#t" x="588.34" y="251.75"/>
<use href="#t" x="588.59" y="251.85"/>
<use href="#t" x="588.83" y="251.96"/>
<use href="#t" x="589.07" y="252.07"/>
<use href="#t" x="589.31" y="252.18"/>
<use href="#t" x="589.54" y="252.28"/>
<use href="#t" x="589.78" y="252.39"/>
<use href="#t" x="590.02" y="252.49"/>
<use href="#t" x="590.25" y="252.6"/>
<use href="#t" x="590.49" y="252.71"/>
<use href="#t" x="590.72" y="252.81"/>
<use href="#t" x="590.96" y="252.91"/>
<use href="#t" x="591.19" y="253.02"/>
<use href="#t" x="591.42" y="253.12"/>
<use href="#t" x="591.65" y="253.22"/>
<use href="#t" x="591.88" y="253.33"/>
<use href="#t" x="592.11" y="253.43"/>
<use href="#t" x="592.34" y="253.53"/>
<use href="#t" x="592.57" y="253.63"/>
<use href="#t" x="592.8" y="253.73"/>
<use href="#t" x="593.02" y="253.83"/>
<use href="#t" x="593.25" y="253.93"/>
<use href="#t" x="593.47" y="254.03"/>
<use href="#t" x="593.7" y="254.13"/>
<use href="#t" x="593.92" y="254.23"/>
<use href="#t" x="594.15" y="254.33"/>
<use href="#t" x="594.37" y="254.43"/>
<use href="#t" x="594.59" y="254.53"/>
<use href="#t" x="594.81" y="254.62"/>
<use href="#t" x="595.03" y="254.72"/>
<use href="#t" x="595.25" y="254.82"/>
<use href="#t" x="595.47" y="254.91"/>
<use href="#t" x="595.69" y="255.01"/>
<use href="#t" x="595.91" y="255.11"/>
<use href="#t" x="596.12" y="255.2"/>
<use href="#t" x="596.34" y="255.3"/>
<use href="#t" x="596.56" y="255.39"/>
<use href="#t" x="596.77" y="255.49"/>
<use href="#t" x="596.99" y="255.58"/>
<use href="#t" x="597.2" y="255.67"/>
<use href="#t" x="597.41" y="255.77"/>
<use href="#t" x="597.62" y="255.86"/>
<use href="#t" x="597.84" y="255.95"/>
<use href="#t" x="598.05" y="256.04"/>
<use href="#t" x="598.26" y="256.14"/>
<use href="#t" x="598.47" y="256.23"/>
<use href="#t" x="598.68" y="256.32"/>
<use href="#t" x="598.89" y="256.41"/>
<use href="#t" x="599.1" y="256.5"/>
<use href="#t" x="599.3" y="256.59"/>
<use href="#t" x="599.51" y="256.68"/>
<use href="#t" x="599.72" y="256.77"/>
<use href="#t" x="599.92" y="256.86"/>
<use href="#t" x="600.13" y="256.95"/>
<use href="#t" x="600.33" y="257.04"/>
<use href="#t" x="600.54" y="257.13"/>
<use href="#t" x="600.74" y="257.22"/>
<use href="#t" x="600.94" y="257.3"/>
<use href="#t" x="601.14" y="257.39"/>
<use href="#t" x="601.35" y="257.48"/>
<use href="#t" x="601.55" y="257.57"/>
<use href="#t" x="601.75" y="257.65"/>
<use href="#t" x="601.95" y="257.74"/>
<use href="#t" x="602.15" y="257.83"/>
<use href="#t" x="602.35" y="257.91"/>
<use href="#t" x="602.54" y="258"/>
<use href="#t" x="602.74" y="258.08"/>
<use href="#t" x="602.94" y="258.17"/>
<use href="#t" x="603.14" y="258.25"/>
<use href="#t" x="603.33" y="258.34"/>
<use href="#t" x="603.53" y="258.42"/>
<use href="#t" x="603.72" y="258.5"/>
<use href="#t" x="603.92" y="258.59"/>
<use href="#t" x="604.11" y="258.67"/>
<use href="#t" x="604.31" y="258.75"/>
<use href="#t" x="604.5" y="258.84"/>
<use href="#t" x="604.69" y="258.92"/>
<use href="#t" x="604.88" y="259"/>
<use href="#t" x="605.07" y="259.08"/>
<use href="#t" x="605.27" y="259.16"/>
<use href="#t" x="605.46" y="259.25"/>
<use href="#t" x="605.65" y="259.33"/>
<use href="#t" x="605.84" y="259.41"/>
<use href="#t" x="606.02" y="259.49"/>
<use href="#t" x="606.21" y="259.57"/>
<use href="#t" x="606.4" y="259.65"/>
<use href="#t" x="606.59" y="259.73"/>
<use href="#t" x="606.77" y="259.81"/>
<use href="#t" x="606.96" y="259.89"/>
<use href="#t" x="607.15" y="259.97"/>
<use href="#t" x="607.33" y="260.05"/>
<use href="#t" x="607.52" y="260.12"/>
<use href="#t" x="607.7" y="260.2"/>
<use href="#t" x="607.89" y="260.28"/>
<use href="#t" x="608.07" y="260.36"/>
<use href="#t" x="608.25" y="260.44"/>
<use href="#t" x="608.44" y="260.51"/>
<use href="#t" x="608.62" y="260.59"/>
<use href="#t" x="608.8" y="260.67"/>
<use href="#t" x="608.98" y="260.74"/>
<use href="#t" x="609.16" y="260.82"/>
<use href="#t" x="609.34" y="260.9"/>
<use href="#t" x="609.52" y="260.97"/>
<use href="#t" x="609.7" y="261.05"/>
<use href="#t" x="609.88" y="261.12"/>
<use href="#t" x="610.06" y="261.2"/>
<use href="#t" x="610.24" y="261.27"/>
<use href="#t" x="610.41" y="261.35"/>
<use href="#t" x="610.59" y="261.42"/>
<use href="#t" x="610.77" y="261.5"/>
<use href="#t" x="610.94" y="261.57"/>
<use href="#t" x="611.12" y="261.64"/>
<use href="#t" x="611.3" y="261.72"/>
<use href="#t" x="611.47" y="261.79"/>
<use href="#t" x="611.64" y="261.86"/>
<use href="#t" x="611.82" y="261.94"/>
<use href="#t" x="611.99" y="262.01"/>
<use href="#t" x="612.17" y="262.08"/>
<use href="#t" x="612.34" y="262.15"/>
<use href="#t" x="612.51" y="262.23"/>
<use href="#t" x="612.68" y="262.3"/>
<use href="#t" x="612.86" y="262.37"/>
<use href="#t" x="613.03" y="262.44"/>
<use href="#t" x="613.2" y="262.51"/>
<use href="#t" x="613.37" y="262.58"/>
<use href="#t" x="613.54" y="262.65"/>
<use href="#t" x="613.71" y="262.72"/>
<use href="#t" x="613.88" y="262.79"/>
<use href="#t" x="614.05" y="262.86"/>
<use href="#t" x="614.21" y="262.93"/>
<use href="#t" x="614.38" y="263"/>
<use href="#t" x="614.55" y="263.07"/>
<use href="#t" x="614.72" y="263.14"/>
<use href="#t" x="614.88" y="263.21"/>
<use href="#t" x="615.05" y="263.28"/>
<use href="#t" x="615.22" y="263.35"/>
<use href="#t" x="615.38" y="263.42"/>
<use href="#t" x="615.55" y="263.48"/>
<use href="#t" x="615.71" y="263.55"/>
<use href="#t" x="615.88" y="263.62"/>
<use href="#t" x="616.04" y="263.69"/>
<use href="#t" x="616.2" y="263.76"/>
<use href="#t" x="616.37" y="263.82"/>
<use href="#t" x="616.53" y="263.89"/>
<use href="#t" x="616.69" y="263.96"/>
<use href="#t" x="616.85" y="264.02"/>
<use href="#t" x="617.02" y="264.09"/>
<use href="#t" x="617.18" y="264.16"/>
<use href="#t" x="617.34" y="264.22"/>
<use href="#t" x="617.5" y="264.29"/>
<use href="#t" x="617.66" y="264.35"/>
<use href="#t" x="617.82" y="264.42"/>
<use href="#t" x="617.98" y="264.48"/>
<use href="#t" x="618.14" y="264.55"/>
<use href="#t" x="618.3" y="264.61"/>
<use href="#t" x="618.46" y="264.68"/>
<use href="#t" x="618.62" y="264.74"/>
<use href="#t" x="618.77" y="264.81"/>
<use href="#t" x="618.93" y="264.87"/>
<use href="#t" x="619.09" y="264.94"/>
<use href="#t" x="619.25" y="265"/>
<use href="#t" x="619.4" y="265.06"/>
<use href="#t" x="619.56" y="265.13"/>
<use href="#t" x="619.71" y="265.19"/>
<use href="#t" x="619.87" y="265.25"/>
<use href="#t" x="620.02" y="265.32"/>
<use href="#t" x="620.18" y="265.38"/>
<use href="#t" x="620.33" y="265.44"/>
<use href="#t" x="620.49" y="265.51"/>
<use href="#t" x="620.64" y="265.57"/>
<use href="#t" x="620.8" y="265.63"/>
<use href="#t" x="620.95" y="265.69"/>
<use href="#t" x="621.1" y="265.75"/>
<use href="#t" x="621.25" y="265.82"/>
<use href="#t" x="621.41" y="265.88"/>
<use href="#t" x="621.56" y="265.94"/>
<use href="#t" x="621.71" y="266"/>
<use href="#t" x="621.86" y="266.06"/>
<use href="#t" x="622.01" y="266.12"/>
<use href="#t" x="622.16" y="266.18"/>
<use href="#t" x="622.31" y="266.24"/>
<use href="#t" x="622.46" y="266.3"/>
<use href="#t" x="622.61" y="266.36"/>
<use href="#t" x="622.76" y="266.42"/>
<use href="#t" x="622.91" y="266.48"/>
<use href="#t" x="623.06" y="266.54"/>
<use href="#t" x="623.21" y="266.6"/>
<use href="#t" x="623.36" y="266.66"/>
<use href="#t" x="623.5" y="266.72"/>
<use href="#t" x="623.65" y="266.78"/>
<use href="#t" x="623.8" y="266.84"/>
<use href="#t" x="623.95" y="266.9"/>
<use href="#t" x="624.09" y="266.96"/>
<use href="#t" x="624.24" y="267.01"/>
<use href="#t" x="624.38" y="267.07"/>
<use href="#t" x="624.53" y="267.13"/>
<use href="#t" x="624.68" y="267.19"/>
<use href="#t" x="624.82" y="267.25"/>
<use href="#t" x="624.97" y="267.3"/>
<use href="#t" x="625.11" y="267.36"/>
<use href="#t" x="625.25" y="267.42"/>
<use href="#t" x="625.4" y="267.48"/>
<use href="#t" x="625.54" y="267.53"/>
<use href="#t" x="625.69" y="267.59"/>
<use href="#t" x="625.83" y="267.65"/>
<use href="#t" x="625.97" y="267.7"/>
<use href="#t" x="626.11" y="267.76"/>
<use href="#t" x="626.26" y="267.82"/>
<use href="#t" x="626.4" y="267.87"/>
<use href="#t" x="626.54" y="267.93"/>
<use href="#t" x="626.68" y="267.98"/>
<use href="#t" x="626.82" y="268.04"/>
<use href="#t" x="626.96" y="268.1"/>
<use href="#t" x="627.1" y="268.15"/>
<use href="#t" x="627.24" y="268.21"/>
<use href="#t" x="627.38" y="268.26"/>
<use href="#t" x="627.52" y="268.32"/>
<use href="#t" x="627.66" y="268.37"/>
<use href="#t" x="627.8" y="268.43"/>
<use href="#t" x="627.94" y="268.48"/>
<use href="#t" x="628.08" y="268.54"/>
<use href="#t" x="628.22" y="268.59"/>
<use href="#t" x="628.36" y="268.64"/>
<use href="#t" x="628.49" y="268.7"/>
<use href="#t" x="628.63" y="268.75"/>
<use href="#t" x="628.77" y="268.81"/>
<use href="#t" x="628.9" y="268.86"/>
<use href="#t" x="629.04" y="268.91"/>
<use href="#t" x="629.18" y="268.97"/>
<use href="#t" x="629.31" y="269.02"/>
<use href="#t" x="629.45" y="269.07"/>
<use href="#t" x="629.59" y="269.13"/>
<use href="#t" x="629.72" y="269.18"/>
<use href="#t" x="629.86" y="269.23"/>
<use href="#t" x="629.99" y="269.28"/>
<use href="#t" x="630.13" y="269.34"/>
<use href="#t" x="630.26" y="269.39"/>
<use href="#t" x="630.39" y="269.44"/>
<use href="#t" x="630.53" y="269.49"/>
<use href="#t" x="630.66" y="269.54"/>
<use href="#t" x="630.8" y="269.6"/>
<use href="#t" x="630.93" y="269.65"/>
<use href="#t" x="631.06" y="269.7"/>
<use href="#t" x="631.19" y="269.75"/>
<use href="#t" x="631.33" y="269.8"/>
<use href="#t" x="631.46" y="269.85"/>
<use href="#t" x="631.59" y="269.9"/>
<use href="#t" x="631.72" y="269.96"/>
<use href="#t" x="631.85" y="270.01"/>
<use href="#t" x="631.99" y="270.06"/>
<use href="#t" x="632.12" y="270.11"/>
<use href="#t" x="632.25" y="270.16"/>
<use href="#t" x="632.38" y="270.21"/>
<use href="#t" x="632.51" y="270.26"/>
<use href="#t" x="632.64" y="270.31"/>
<use href="#t" x="632.77" y="270.36"/>
<use href="#t" x="632.9" y="270.41"/>
<use href="#t" x="633.03" y="270.46"/>
<use href="#t" x="633.16" y="270.51"/>
<use href="#t" x="633.28" y="270.56"/>
<use href="#t" x="633.41" y="270.61"/>
<use href="#t" x="633.54" y="270.66"/>
<use href="#t" x="633.67" y="270.71"/>
<use href="#t" x="633.8" y="270.75"/>
<use href="#t" x="633.93" y="270.8"/>
<use href="#t" x="634.05" y="270.85"/>
<use href="#t" x="634.18" y="270.9"/>
<use href="#t" x="634.31" y="270.95"/>
<use href="#t" x="634.43" y="271"/>
<use href="#t" x="634.56" y="271.05"/>
<use href="#t" x="634.69" y="271.09"/>
<use href="#t" x="634.81" y="271.14"/>
<use href="#t" x="634.94" y="271.19"/>
<use href="#t" x="635.06" y="271.24"/>
<use href="#t" x="635.19" y="271.29"/>
<use href="#t" x="635.31" y="271.33"/>
<use href="#t" x="635.44" y="271.38"/>
<use href="#t" x="635.56" y="271.43"/>
<use href="#t" x="635.69" y="271.48"/>
<use href="#t" x="635.81" y="271.52"/>
<use href="#t" x="635.94" y="271.57"/>
<use href="#t" x="636.06" y="271.62"/>
<use href="#t" x="636.19" y="271.66"/>
<use href="#t" x="636.31" y="271.71"/>
<use href="#t" x="636.43" y="271.76"/>
<use href="#t" x="636.55" y="271.8"/>
<use href="#t" x="636.68" y="271.85"/>
<use href="#t" x="636.8" y="271.9"/>
<use href="#t" x="636.92" y="271.94"/>
<use href="#t" x="637.04" y="271.99"/>
<use href="#t" x="637.17" y="272.04"/>
<use href="#t" x="637.29" y="272.08"/>
<use href="#t" x="637.41" y="272.13"/>
<use href="#t" x="637.53" y="272.17"/>
<use href="#t" x="637.65" y="272.22"/>
<use href="#t" x="637.77" y="272.26"/>
<use href="#t" x="637.89" y="272.31"/>
<use href="#t" x="638.02" y="272.36"/>
<use href="#t" x="638.14" y="272.4"/>
<use href="#t" x="638.26" y="272.45"/>
<use href="#t" x="638.38" y="272.49"/>
<use href="#t" x="638.5" y="272.54"/>
<use href="#t" x="638.61" y="272.58"/>
<use href="#t" x="638.73" y="272.63"/>
<use href="#t" x="638.85" y="272.67"/>
<use href="#t" x="638.97" y="272.71"/>
<use href="#a" x="184" y="113.1"/>
<use href="#a" x="232.23" y="131.5"/>
<use href="#a" x="261.14" y="141.4"/>
<use href="#a" x="281.66" y="149.3"/>
<use href="#a" x="297.57" y="155.2"/>
<use href="#a" x="310.57" y="160"/>
<use href="#a" x="321.57" y="164.7"/>
<use href="#a" x="331.09" y="168.5"/>
<use href="#a" x="339.49" y="172.2"/>
<use href="#a" x="347" y="175.64"/>
<use href="#a" x="353.8" y="178.79"/>
<use href="#a" x="360" y="181.69"/>
<use href="#a" x="365.71" y="184.39"/>
<use href="#a" x="370.99" y="186.91"/>
<use href="#a" x="375.91" y="189.27"/>
<use href="#a" x="380.52" y="191.5"/>
<use href="#a" x="384.84" y="193.61"/>
<use href="#a" x="388.92" y="195.61"/>
<use href="#a" x="392.77" y="197.52"/>
<use href="#a" x="396.43" y="199.34"/>
<use href="#a" x="399.91" y="200.92"/>
<use href="#a" x="403.23" y="202.44"/>
<use href="#a" x="406.4" y="203.89"/>
<use href="#a" x="409.43" y="205.28"/>
<use href="#a" x="412.34" y="206.62"/>
<use href="#a" x="415.14" y="207.9"/>
<use href="#a" x="417.83" y="209.14"/>
<use href="#a" x="420.42" y="210.33"/>
<use href="#a" x="422.93" y="211.48"/>
<use href="#a" x="425.34" y="212.6"/>
<use href="#a" x="427.68" y="213.68"/>
<use href="#a" x="429.95" y="214.72"/>
<use href="#a" x="432.14" y="215.73"/>
<use href="#a" x="434.27" y="216.71"/>
<use href="#a" x="436.34" y="217.67"/>
<use href="#a" x="438.34" y="218.59"/>
<use href="#a" x="440.3" y="219.49"/>
<use href="#a" x="442.2" y="220.37"/>
<use href="#a" x="444.05" y="221.23"/>
<use href="#a" x="445.86" y="222.06"/>
<use href="#a" x="447.62" y="222.87"/>
<use href="#a" x="449.34" y="223.67"/>
<use href="#a" x="451.02" y="224.44"/>
<use href="#a" x="452.65" y="225.2"/>
<use href="#a" x="454.26" y="225.94"/>
<use href="#a" x="455.82" y="226.66"/>
<use href="#a" x="457.36" y="227.36"/>
<use href="#a" x="458.86" y="228.06"/>
<use href="#a" x="460.33" y="228.73"/>
<use href="#a" x="461.77" y="229.4"/>
<use href="#a" x="463.18" y="230.05"/>
<use href="#a" x="464.57" y="230.68"/>
<use href="#a" x="465.93" y="231.31"/>
<use href="#a" x="467.26" y="231.92"/>
<use href="#a" x="468.57" y="232.52"/>
<use href="#a" x="469.85" y="233.11"/>
<use href="#a" x="471.11" y="233.69"/>
<use href="#a" x="472.35" y="234.26"/>
<use href="#a" x="473.57" y="234.82"/>
<use href="#a" x="474.77" y="235.37"/>
<use href="#a" x="475.95" y="235.91"/>
<use href="#a" x="477.11" y="236.44"/>
<use href="#a" x="478.25" y="236.97"/>
<use href="#a" x="479.37" y="237.48"/>
<use href="#a" x="480.48" y="237.99"/>
<use href="#a" x="481.57" y="238.48"/>
<use href="#a" x="482.64" y="238.97"/>
<use href="#a" x="483.7" y="239.46"/>
<use href="#a" x="484.74" y="239.93"/>
<use href="#a" x="485.77" y="240.4"/>
<use href="#a" x="486.78" y="240.86"/>
<use href="#a" x="487.77" y="241.32"/>
<use href="#a" x="488.76" y="241.76"/>
<use href="#a" x="489.73" y="242.21"/>
<use href="#a" x="490.69" y="242.64"/>
<use href="#a" x="491.63" y="243.07"/>
<use href="#a" x="492.56" y="243.5"/>
<use href="#a" x="493.48" y="243.91"/>
<use href="#a" x="494.39" y="244.33"/>
<use href="#a" x="495.29" y="244.73"/>
<use href="#a" x="496.17" y="245.13"/>
<use href="#a" x="497.05" y="245.53"/>
<use href="#a" x="497.91" y="245.92"/>
<use href="#a" x="498.77" y="246.31"/>
<use href="#a" x="499.61" y="246.69"/>
<use href="#a" x="500.44" y="247.07"/>
<use href="#a" x="501.27" y="247.44"/>
<use href="#a" x="502.08" y="247.81"/>
<use href="#a" x="502.89" y="248.17"/>
<use href="#a" x="503.69" y="248.53"/>
<use href="#a" x="504.47" y="248.88"/>
<use href="#a" x="505.25" y="249.24"/>
<use href="#a" x="506.02" y="249.58"/>
<use href="#a" x="506.79" y="249.92"/>
<use href="#a" x="507.54" y="250.26"/>
<use href="#a" x="508.29" y="250.6"/>
<use href="#a" x="509.03" y="250.93"/>
<use href="#a" x="509.76" y="251.26"/>
<use href="#a" x="510.48" y="251.58"/>
<use href="#a" x="511.2" y="251.9"/>
<use href="#a" x="511.91" y="252.22"/>
<use href="#a" x="512.61" y="252.54"/>
<use href="#a" x="513.31" y="252.85"/>
<use href="#a" x="514" y="253.15"/>
<use href="#a" x="514.68" y="253.46"/>
<use href="#a" x="515.36" y="253.76"/>
<use href="#a" x="516.02" y="254.06"/>
<use href="#a" x="516.69" y="254.35"/>
<use href="#a" x="517.35" y="254.65"/>
<use href="#a" x="518" y="254.94"/>
<use href="#a" x="518.64" y="255.22"/>
<use href="#a" x="519.28" y="255.51"/>
<use href="#a" x="519.92" y="255.79"/>
<use href="#a" x="520.54" y="256.07"/>
<use href="#a" x="521.17" y="256.34"/>
<use href="#a" x="521.78" y="256.62"/>
<use href="#a" x="522.4" y="256.89"/>
<use href="#a" x="523" y="257.16"/>
<use href="#a" x="523.6" y="257.42"/>
<use href="#a" x="524.2" y="257.69"/>
<use href="#a" x="524.79" y="257.95"/>
<use href="#a" x="525.38" y="258.21"/>
<use href="#a" x="525.96" y="258.46"/>
<use href="#a" x="526.54" y="258.72"/>
<use href="#a" x="527.11" y="258.97"/>
<use href="#a" x="527.68" y="259.22"/>
<use href="#a" x="528.24" y="259.47"/>
<use href="#a" x="528.8" y="259.71"/>
<use href="#a" x="529.36" y="259.96"/>
<use href="#a" x="529.91" y="260.2"/>
<use href="#a" x="530.46" y="260.44"/>
<use href="#a" x="531" y="260.68"/>
<use href="#a" x="531.54" y="260.91"/>
<use href="#a" x="532.07" y="261.15"/>
<use href="#a" x="532.6" y="261.38"/>
<use href="#a" x="533.13" y="261.61"/>
<use href="#a" x="533.65" y="261.84"/>
<use href="#a" x="534.17" y="262.06"/>
<use href="#a" x="534.68" y="262.29"/>
<use href="#a" x="535.19" y="262.51"/>
<use href="#a" x="535.7" y="262.73"/>
<use href="#a" x="536.21" y="262.95"/>
<use href="#a" x="536.71" y="263.17"/>
<use href="#a" x="537.2" y="263.39"/>
<use href="#a" x="537.7" y="263.6"/>
<use href="#a" x="538.19" y="263.81"/>
<use href="#a" x="538.67" y="264.02"/>
<use href="#a" x="539.16" y="264.23"/>
<use href="#a" x="539.64" y="264.44"/>
<use href="#a" x="540.11" y="264.65"/>
<use href="#a" x="540.59" y="264.85"/>
<use href="#a" x="541.06" y="265.06"/>
<use href="#a" x="541.53" y="265.26"/>
<use href="#a" x="541.99" y="265.46"/>
<use href="#a" x="542.45" y="265.66"/>
<use href="#a" x="542.91" y="265.86"/>
<use href="#a" x="543.37" y="266.05"/>
<use href="#a" x="543.82" y="266.25"/>
<use href="#a" x="544.27" y="266.44"/>
<use href="#a" x="544.72" y="266.63"/>
<use href="#a" x="545.16" y="266.82"/>
<use href="#a" x="545.6" y="267.01"/>
<use href="#a" x="546.04" y="267.2"/>
<use href="#a" x="546.48" y="267.39"/>
<use href="#a" x="546.91" y="267.58"/>
<use href="#a" x="547.34" y="267.76"/>
<use href="#a" x="547.77" y="267.94"/>
<use href="#a" x="548.2" y="268.13"/>
<use href="#a" x="548.62" y="268.31"/>
<use href="#a" x="549.04" y="268.49"/>
<use href="#a" x="549.46" y="268.66"/>
<use href="#a" x="549.87" y="268.84"/>
<use href="#a" x="550.29" y="269.02"/>
<use href="#a" x="550.7" y="269.19"/>
<use href="#a" x="551.11" y="269.37"/>
<use href="#a" x="551.51" y="269.54"/>
<use href="#a" x="551.92" y="269.71"/>
<use href="#a" x="552.32" y="269.88"/>
<use href="#a" x="552.72" y="270.05"/>
<use href="#a" x="553.12" y="270.22"/>
<use href="#a" x="553.51" y="270.39"/>
<use href="#a" x="553.9" y="270.55"/>
<use href="#a" x="554.29" y="270.72"/>
<use href="#a" x="554.68" y="270.88"/>
<use href="#a" x="555.07" y="271.05"/>
<use href="#a" x="555.45" y="271.21"/>
<use href="#a" x="555.84" y="271.37"/>
<use href="#a" x="556.22" y="271.53"/>
<use href="#a" x="556.6" y="271.69"/>
<use href="#a" x="556.97" y="271.85"/>
<use href="#a" x="557.35" y="272.01"/>
<use href="#a" x="557.72" y="272.17"/>
<use href="#a" x="558.09" y="272.32"/>
<use href="#a" x="558.46" y="272.48"/>
<use href="#a" x="558.82" y="272.63"/>
<use href="#a" x="559.19" y="272.78"/>
<use href="#a" x="559.55" y="272.94"/>
<use href="#a" x="559.91" y="273.09"/>
<use href="#a" x="560.27" y="273.24"/>
<use href="#a" x="560.63" y="273.39"/>
<use href="#a" x="560.98" y="273.54"/>
<use href="#a" x="561.34" y="273.68"/>
<use href="#a" x="561.69" y="273.83"/>
<use href="#a" x="562.04" y="273.98"/>
<use href="#a" x="562.39" y="274.12"/>
<use href="#a" x="562.74" y="274.27"/>
<use href="#a" x="563.08" y="274.41"/>
<use href="#a" x="563.43" y="274.56"/>
<use href="#a" x="563.77" y="274.7"/>
<use href="#a" x="564.11" y="274.84"/>
<use href="#a" x="564.45" y="274.98"/>
<use href="#a" x="564.78" y="275.12"/>
<use href="#a" x="565.12" y="275.26"/>
<use href="#a" x="565.45" y="275.4"/>
<use href="#a" x="565.79" y="275.54"/>
<use href="#a" x="566.12" y="275.67"/>
<use href="#a" x="566.45" y="275.81"/>
<use href="#a" x="566.77" y="275.95"/>
<use href="#a" x="567.1" y="276.08"/>
<use href="#a" x="567.43" y="276.22"/>
<use href="#a" x="567.75" y="276.35"/>
<use href="#a" x="568.07" y="276.48"/>
<use href="#a" x="568.39" y="276.61"/>
<use href="#a" x="568.71" y="276.75"/>
<use href="#a" x="569.03" y="276.88"/>
<use href="#a" x="569.34" y="277.01"/>
<use href="#a" x="569.66" y="277.14"/>
<use href="#a" x="569.97" y="277.27"/>
<use href="#a" x="570.28" y="277.39"/>
<use href="#a" x="570.6" y="277.52"/>
<use href="#a" x="570.91" y="277.65"/>
<use href="#a" x="571.21" y="277.77"/>
<use href="#a" x="571.52" y="277.9"/>
<use href="#a" x="571.83" y="278.03"/>
<use href="#a" x="572.13" y="278.15"/>
<use href="#a" x="572.43" y="278.27"/>
<use href="#a" x="572.73" y="278.4"/>
<use href="#a" x="573.03" y="278.52"/>
<use href="#a" x="573.33" y="278.64"/>
<use href="#a" x="573.63" y="278.76"/>
<use href="#a" x="573.93" y="278.88"/>
<use href="#a" x="574.22" y="279.01"/>
<use href="#a" x="574.52" y="279.13"/>
<use href="#a" x="574.81" y="279.24"/>
<use href="#a" x="575.1" y="279.36"/>
<use href="#a" x="575.39" y="279.48"/>
<use href="#a" x="575.68" y="279.6"/>
<use href="#a" x="575.97" y="279.72"/>
<use href="#a" x="576.26" y="279.83"/>
<use href="#a" x="576.54" y="279.95"/>
<use href="#a" x="576.83" y="280.06"/>
<use href="#a" x="577.11" y="280.18"/>
<use href="#a" x="577.39" y="280.29"/>
<use href="#a" x="577.67" y="280.41"/>
<use href="#a" x="577.95" y="280.52"/>
<use href="#a" x="578.23" y="280.63"/>
<use href="#a" x="578.51" y="280.75"/>
<use href="#a" x="578.79" y="280.86"/>
<use href="#a" x="579.06" y="280.97"/>
<use href="#a" x="579.34" y="281.08"/>
<use href="#a" x="579.61" y="281.19"/>
<use href="#a" x="579.89" y="281.3"/>
<use href="#a" x="580.16" y="281.41"/>
<use href="#a" x="580.43" y="281.52"/>
<use href="#a" x="580.7" y="281.63"/>
<use href="#a" x="580.97" y="281.73"/>
<use href="#a" x="581.23" y="281.84"/>
<use href="#a" x="581.5" y="281.95"/>
<use href="#a" x="581.77" y="282.05"/>
<use href="#a" x="582.03" y="282.16"/>
<use href="#a" x="582.29" y="282.27"/>
<use href="#a" x="582.56" y="282.37"/>
<use href="#a" x="582.82" y="282.48"/>
<use href="#a" x="583.08" y="282.58"/>
<use href="#a" x="583.34" y="282.68"/>
<use href="#a" x="583.6" y="282.79"/>
<use href="#a" x="583.86" y="282.89"/>
<use href="#a" x="584.11" y="282.99"/>
<use href="#a" x="584.37" y="283.09"/>
<use href="#a" x="584.62" y="283.2"/>
<use href="#a" x="584.88" y="283.3"/>
<use href="#a" x="585.13" y="283.4"/>
<use href="#a" x="585.38" y="283.5"/>
<use href="#a" x="585.63" y="283.6"/>
<use href="#a" x="585.89" y="283.7"/>
<use href="#a" x="586.14" y="283.8"/>
<use href="#a" x="586.38" y="283.9"/>
<use href="#a" x="586.63" y="283.99"/>
<use href="#a" x="586.88" y="284.09"/>
<use href="#a" x="587.13" y="284.19"/>
<use href="#a" x="587.37" y="284.29"/>
<use href="#a" x="587.62" y="284.38"/>
<use href="#a" x="587.86" y="284.48"/>
<use href="#a" x="588.1" y="284.58"/>
<use href="#a" x="588.34" y="284.67"/>
<use href="#a" x="588.59" y="284.77"/>
<use href="#a" x="588.83" y="284.86"/>
<use href="#a" x="589.07" y="284.96"/>
<use href="#a" x="589.31" y="285.05"/>
<use href="#a" x="589.54" y="285.14"/>
<use href="#a" x="589.78" y="285.24"/>
<use href="#a" x="590.02" y="285.33"/>
<use href="#a" x="590.25" y="285.42"/>
<use href="#a" x="590.49" y="285.51"/>
<use href="#a" x="590.72" y="285.61"/>
<use href="#a" x="590.96" y="285.7"/>
<use href="#a" x="591.19" y="285.79"/>
<use href="#a" x="591.42" y="285.88"/>
<use href="#a" x="591.65" y="285.97"/>
<use href="#a" x="591.88" y="286.06"/>
<use href="#a" x="592.11" y="286.15"/>
<use href="#a" x="592.34" y="286.24"/>
<use href="#a" x="592.57" y="286.33"/>
<use href="#a" x="592.8" y="286.42"/>
<use href="#a" x="593.02" y="286.51"/>
<use href="#a" x="593.25" y="286.59"/>
<use href="#a" x="593.47" y="286.68"/>
<use href="#a" x="593.7" y="286.77"/>
<use href="#a" x="593.92" y="286.86"/>
<use href="#a" x="594.15" y="286.94"/>
<use href="#a" x="594.37" y="287.03"/>
<use href="#a" x="594.59" y="287.12"/>
<use href="#a" x="594.81" y="287.2"/>
<use href="#a" x="595.03" y="287.29"/>
<use href="#a" x="595.25" y="287.37"/>
<use href="#a" x="595.47" y="287.46"/>
<use href="#a" x="595.69" y="287.54"/>
<use href="#a" x="595.91" y="287.63"/>
<use href="#a" x="596.12" y="287.71"/>
<use href="#a" x="596.34" y="287.79"/>
<use href="#a" x="596.56" y="287.88"/>
<use href="#a" x="596.77" y="287.96"/>
<use href="#a" x="596.99" y="288.04"/>
<use href="#a" x="597.2" y="288.13"/>
<use href="#a" x="597.41" y="288.21"/>
<use href="#a" x="597.62" y="288.29"/>
<use href="#a" x="597.84" y="288.37"/>
<use href="#a" x="598.05" y="288.45"/>
<use href="#a" x="598.26" y="288.53"/>
<use href="#a" x="598.47" y="288.61"/>
<use href="#a" x="598.68" y="288.69"/>
<use href="#a" x="598.89" y="288.77"/>
<use href="#a" x="599.1" y="288.85"/>
<use href="#a" x="599.3" y="288.93"/>
<use href="#a" x="599.51" y="289.01"/>
<use href="#a" x="599.72" y="289.09"/>
<use href="#a" x="599.92" y="289.17"/>
<use href="#a" x="600.13" y="289.25"/>
<use href="#a" x="600.33" y="289.33"/>
<use href="#a" x="600.54" y="289.41"/>
<use href="#a" x="600.74" y="289.48"/>
<use href="#a" x="600.94" y="289.56"/>
<use href="#a" x="601.14" y="289.64"/>
<use href="#a" x="601.35" y="289.72"/>
<use href="#a" x="601.55" y="289.79"/>
<use href="#a" x="601.75" y="289.87"/>
<use href="#a" x="601.95" y="289.94"/>
<use href="#a" x="602.15" y="290.02"/>
<use href="#a" x="602.35" y="290.1"/>
<use href="#a" x="602.54" y="290.17"/>
<use href="#a" x="602.74" y="290.25"/>
<use href="#a" x="602.94" y="290.32"/>
<use href="#a" x="603.14" y="290.4"/>
<use href="#a" x="603.33" y="290.47"/>
<use href="#a" x="603.53" y="290.54"/>
<use href="#a" x="603.72" y="290.62"/>
<use href="#a" x="603.92" y="290.69"/>
<use href="#a" x="604.11" y="290.77"/>
<use href="#a" x="604.31" y="290.84"/>
<use href="#a" x="604.5" y="290.91"/>
<use href="#a" x="604.69" y="290.98"/>
<use href="#a" x="604.88" y="291.06"/>
<use href="#a" x="605.07" y="291.13"/>
<use href="#a" x="605.27" y="291.2"/>
<use href="#a" x="605.46" y="291.27"/>
<use href="#a" x="605.65" y="291.34"/>
<use href="#a" x="605.84" y="291.41"/>
<use href="#a" x="606.02" y="291.49"/>
<use href="#a" x="606.21" y="291.56"/>
<use href="#a" x="606.4" y="291.63"/>
<use href="#a" x="606.59" y="291.7"/>
<use href="#a" x="606.77" y="291.77"/>
<use href="#a" x="606.96" y="291.84"/>
<use href="#a" x="607.15" y="291.91"/>
<use href="#a" x="607.33" y="291.98"/>
<use href="#a" x="607.52" y="292.05"/>
<use href="#a" x="607.7" y="292.12"/>
<use href="#a" x="607.89" y="292.18"/>
<use href="#a" x="608.07" y="292.25"/>
<use href="#a" x="608.25" y="292.32"/>
<use href="#a" x="608.44" y="292.39"/>
<use href="#a" x="608.62" y="292.46"/>
<use href="#a" x="608.8" y="292.52"/>
<use href="#a" x="608.98" y="292.59"/>
<use href="#a" x="609.16" y="292.66"/>
<use href="#a" x="609.34" y="292.73"/>
<use href="#a" x="609.52" y="292.79"/>
<use href="#a" x="609.7" y="292.86"/>
<use href="#a" x="609.88" y="292.93"/>
<use href="#a" x="610.06" y="292.99"/>
<use href="#a" x="610.24" y="293.06"/>
<use href="#a" x="610.41" y="293.13"/>
<use href="#a" x="610.59" y="293.19"/>
<use href="#a" x="610.77" y="293.26"/>
<use href="#a" x="610.94" y="293.32"/>
<use href="#a" x="611.12" y="293.39"/>
<use href="#a" x="611.3" y="293.45"/>
<use href="#a" x="611.47" y="293.52"/>
<use href="#a" x="611.64" y="293.58"/>
<use href="#a" x="611.82" y="293.65"/>
<use href="#a" x="611.99" y="293.71"/>
<use href="#a" x="612.17" y="293.77"/>
<use href="#a" x="612.34" y="293.84"/>
<use href="#a" x="612.51" y="293.9"/>
<use href="#a" x="612.68" y="293.96"/>
<use href="#a" x="612.86" y="294.03"/>
<use href="#a" x="613.03" y="294.09"/>
<use href="#a" x="613.2" y="294.15"/>
<use href="#a" x="613.37" y="294.22"/>
<use href="#a" x="613.54" y="294.28"/>
<use href="#a" x="613.71" y="294.34"/>
<use href="#a" x="613.88" y="294.4"/>
<use href="#a" x="614.05" y="294.46"/>
<use href="#a" x="614.21" y="294.53"/>
<use href="#a" x="614.38" y="294.59"/>
<use href="#a" x="614.55" y="294.65"/>
<use href="#a" x="614.72" y="294.71"/>
<use href="#a" x="614.88" y="294.77"/>
<use href="#a" x="615.05" y="294.83"/>
<use href="#a" x="615.22" y="294.89"/>
<use href="#a" x="615.38" y="294.95"/>
<use href="#a" x="615.55" y="295.01"/>
<use href="#a" x="615.71" y="295.07"/>
<use href="#a" x="615.88" y="295.13"/>
<use href="#a" x="616.04" y="295.19"/>
<use href="#a" x="616.2" y="295.25"/>
<use href="#a" x="616.37" y="295.31"/>
<use href="#a" x="616.53" y="295.37"/>
<use href="#a" x="616.69" y="295.43"/>
<use href="#a" x="616.85" y="295.49"/>
<use href="#a" x="617.02" y="295.55"/>
<use href="#a" x="617.18" y="295.61"/>
<use href="#a" x="617.34" y="295.67"/>
<use href="#a" x="617.5" y="295.72"/>
<use href="#a" x="617.66" y="295.78"/>
<use href="#a" x="617.82" y="295.84"/>
<use href="#a" x="617.98" y="295.9"/>
<use href="#a" x="618.14" y="295.96"/>
<use href="#a" x="618.3" y="296.01"/>
<use href="#a" x="618.46" y="296.07"/>
<use href="#a" x="618.62" y="296.13"/>
<use href="#a" x="618.77" y="296.19"/>
<use href="#a" x="618.93" y="296.24"/>
<use href="#a" x="619.09" y="296.3"/>
<use href="#a" x="619.25" y="296.36"/>
<use href="#a" x="619.4" y="296.41"/>
<use href="#a" x="619.56" y="296.47"/>
<use href="#a" x="619.71" y="296.52"/>
<use href="#a" x="619.87" y="296.58"/>
<use href="#a" x="620.02" y="296.64"/>
<use href="#a" x="620.18" y="296.69"/>
<use href="#a" x="620.33" y="296.75"/>
<use href="#a" x="620.49" y="296.8"/>
<use href="#a" x="620.64" y="296.86"/>
<use href="#a" x="620.8" y="296.91"/>
<use href="#a" x="620.95" y="296.97"/>
<use href="#a" x="621.1" y="297.02"/>
<use href="#a" x="621.25" y="297.08"/>
<use href="#a" x="621.41" y="297.13"/>
<use href="#a" x="621.56" y="297.19"/>
<use href="#a" x="621.71" y="297.24"/>
<use href="#a" x="621.86" y="297.29"/>
<use href="#a" x="622.01" y="297.35"/>
<use href="#a" x="622.16" y="297.4"/>
<use href="#a" x="622.31" y="297.45"/>
<use href="#a" x="622.46" y="297.51"/>
<use href="#a" x="622.61" y="297.56"/>
<use href="#a" x="622.76" y="297.61"/>
<use href="#a" x="622.91" y="297.67"/>
<use href="#a" x="623.06" y="297.72"/>
<use href="#a" x="623.21" y="297.77"/>
<use href="#a" x="623.36" y="297.83"/>
<use href="#a" x="623.5" y="297.88"/>
<use href="#a" x="623.65" y="297.93"/>
<use href="#a" x="623.8" y="297.98"/>
<use href="#a" x="623.95" y="298.04"/>
<use href="#a" x="624.09" y="298.09"/>
<use href="#a" x="624.24" y="298.14"/>
<use href="#a" x="624.38" y="298.19"/>
<use href="#a" x="624.53" y="298.24"/>
<use href="#a" x="624.68" y="298.29"/>
<use href="#a" x="624.82" y="298.35"/>
<use href="#a" x="624.97" y="298.4"/>
<use href="#a" x="625.11" y="298.45"/>
<use href="#a" x="625.25" y="298.5"/>
<use href="#a" x="625.4" y="298.55"/>
<use href="#a" x="625.54" y="298.6"/>
<use href="#a" x="625.69" y="298.65"/>
<use href="#a" x="625.83" y="298.7"/>
<use href="#a" x="625.97" y="298.75"/>
<use href="#a" x="626.11" y="298.8"/>
<use href="#a" x="626.26" y="298.85"/>
<use href="#a" x="626.4" y="298.9"/>
<use href="#a" x="626.54" y="298.95"/>
<use href="#a" x="626.68" y="299"/>
<use href="#a" x="626.82" y="299.05"/>
<use href="#a" x="626.96" y="299.1"/>
<use href="#a" x="627.1" y="299.15"/>
<use href="#a" x="627.24" y="299.2"/>
<use href="#a" x="627.38" y="299.25"/>
<use href="#a" x="627.52" y="299.3"/>
<use href="#a" x="627.66" y="299.34"/>
<use href="#a" x="627.8" y="299.39"/>
<use href="#a" x="627.94" y="299.44"/>
<use href="#a" x="628.08" y="299.49"/>
<use href="#a" x="628.22" y="299.54"/>
<use href="#a" x="628.36" y="299.59"/>
<use href="#a" x="628.49" y="299.63"/>
<use href="#a" x="628.63" y="299.68"/>
<use href="#a" x="628.77" y="299.73"/>
<use href="#a" x="628.9" y="299.78"/>
<use href="#a" x="629.04" y="299.82"/>
<use href="#a" x="629.18" y="299.87"/>
<use href="#a" x="629.31" y="299.92"/>
<use href="#a" x="629.45" y="299.97"/>
<use href="#a" x="629.59" y="300.01"/>
<use href="#a" x="629.72" y="300.06"/>
<use href="#a" x="629.86" y="300.11"/>
<use href="#a" x="629.99" y="300.15"/>
<use href="#a" x="630.13" y="300.2"/>
<use href="#a" x="630.26" y="300.25"/>
<use href="#a" x="630.39" y="300.29"/>
<use href="#a" x="630.53" y="300.34"/>
<use href="#a" x="630.66" y="300.39"/>
<use href="#a" x="630.8" y="300.43"/>
<use href="#a" x="630.93" y="300.48"/>
<use href="#a" x="631.06" y="300.53"/>
<use href="#a" x="631.19" y="300.57"/>
<use href="#a" x="631.33" y="300.62"/>
<use href="#a" x="631.46" y="300.66"/>
<use href="#a" x="631.59" y="300.71"/>
<use href="#a" x="631.72" y="300.75"/>
<use href="#a" x="631.85" y="300.8"/>
<use href="#a" x="631.99" y="300.84"/>
<use href="#a" x="632.12" y="300.89"/>
<use href="#a" x="632.25" y="300.93"/>
<use href="#a" x="632.38" y="300.98"/>
<use href="#a" x="632.51" y="301.02"/>
<use href="#a" x="632.64" y="301.07"/>
<use href="#a" x="632.77" y="301.11"/>
<use href="#a" x="632.9" y="301.16"/>
<use href="#a" x="633.03" y="301.2"/>
<use href="#a" x="633.16" y="301.24"/>
<use href="#a" x="633.28" y="301.29"/>
<use href="#a" x="633.41" y="301.33"/>
<use href="#a" x="633.54" y="301.38"/>
<use href="#a" x="633.67" y="301.42"/>
<use href="#a" x="633.8" y="301.46"/>
<use href="#a" x="633.93" y="301.51"/>
<use href="#a" x="634.05" y="301.55"/>
<use href="#a" x="634.18" y="301.59"/>
<use href="#a" x="634.31" y="301.64"/>
<use href="#a" x="634.43" y="301.68"/>
<use href="#a" x="634.56" y="301.72"/>
<use href="#a" x="634.69" y="301.77"/>
<use href="#a" x="634.81" y="301.81"/>
<use href="#a" x="634.94" y="301.85"/>
<use href="#a" x="635.06" y="301.9"/>
<use href="#a" x="635.19" y="301.94"/>
<use href="#a" x="635.31" y="301.98"/>
<use href="#a" x="635.44" y="302.02"/>
<use href="#a" x="635.56" y="302.07"/>
<use href="#a" x="635.69" y="302.11"/>
<use href="#a" x="635.81" y="302.15"/>
<use href="#a" x="635.94" y="302.19"/>
<use href="#a" x="636.06" y="302.23"/>
<use href="#a" x="636.19" y="302.28"/>
<use href="#a" x="636.31" y="302.32"/>
<use href="#a" x="636.43" y="302.36"/>
<use href="#a" x="636.55" y="302.4"/>
<use href="#a" x="636.68" y="302.44"/>
<use href="#a" x="636.8" y="302.48"/>
<use href="#a" x="636.92" y="302.53"/>
<use href="#a" x="637.04" y="302.57"/>
<use href="#a" x="637.17" y="302.61"/>
<use href="#a" x="637.29" y="302.65"/>
<use href="#a" x="637.41" y="302.69"/>
<use href="#a" x="637.53" y="302.73"/>
<use href="#a" x="637.65" y="302.77"/>
<use href="#a" x="637.77" y="302.81"/>
<use href="#a" x="637.89" y="302.85"/>
<use href="#a" x="638.02" y="302.89"/>
<use href="#a" x="638.14" y="302.93"/>
<use href="#a" x="638.26" y="302.97"/>
<use href="#a" x="638.38" y="303.01"/>
<use href="#a" x="638.5" y="303.05"/>
<use href="#a" x="638.61" y="303.09"/>
<use href="#a" x="638.73" y="303.13"/>
<use href="#a" x="638.85" y="303.17"/>
<use href="#a" x="638.97" y="303.21"/>
<use href="#d" x="184" y="133.1"/>
<use href="#d" x="232.23" y="150.3"/>
<use href="#d" x="261.14" y="160.5"/>
<use href="#d" x="281.66" y="167.6"/>
<use href="#d" x="297.57" y="172.9"/>
<use href="#d" x="310.57" y="177.9"/>
<use href="#d" x="321.57" y="182.6"/>
<use href="#d" x="331.09" y="186.42"/>
<use href="#d" x="339.49" y="189.83"/>
<use href="#d" x="347" y="192.92"/>
<use href="#d" x="353.8" y="195.75"/>
<use href="#d" x="360" y="198.36"/>
<use href="#d" x="365.71" y="200.78"/>
<use href="#d" x="370.99" y="203.03"/>
<use href="#d" x="375.91" y="205.15"/>
<use href="#d" x="380.52" y="207.14"/>
<use href="#d" x="384.84" y="208.99"/>
<use href="#d" x="388.92" y="210.75"/>
<use href="#d" x="392.77" y="212.41"/>
<use href="#d" x="396.43" y="214"/>
<use href="#d" x="399.91" y="215.51"/>
<use href="#d" x="403.23" y="216.96"/>
<use href="#d" x="406.4" y="218.35"/>
<use href="#d" x="409.43" y="219.68"/>
<use href="#d" x="412.34" y="220.96"/>
<use href="#d" x="415.14" y="222.19"/>
<use href="#d" x="417.83" y="223.38"/>
<use href="#d" x="420.42" y="224.53"/>
<use href="#d" x="422.93" y="225.64"/>
<use href="#d" x="425.34" y="226.71"/>
<use href="#d" x="427.68" y="227.75"/>
<use href="#d" x="429.95" y="228.76"/>
<use href="#d" x="432.14" y="229.74"/>
<use href="#d" x="434.27" y="230.69"/>
<use href="#d" x="436.34" y="231.61"/>
<use href="#d" x="438.34" y="232.51"/>
<use href="#d" x="440.3" y="233.38"/>
<use href="#d" x="442.2" y="234.23"/>
<use href="#d" x="444.05" y="235.06"/>
<use href="#d" x="445.86" y="235.87"/>
<use href="#d" x="447.62" y="236.66"/>
<use href="#d" x="449.34" y="237.43"/>
<use href="#d" x="451.02" y="238.19"/>
<use href="#d" x="452.65" y="238.92"/>
<use href="#d" x="454.26" y="239.64"/>
<use href="#d" x="455.82" y="240.34"/>
<use href="#d" x="457.36" y="241.03"/>
<use href="#d" x="458.86" y="241.71"/>
<use href="#d" x="460.33" y="242.37"/>
<use href="#d" x="461.77" y="243.02"/>
<use href="#d" x="463.18" y="243.65"/>
<use href="#d" x="464.57" y="244.27"/>
<use href="#d" x="465.93" y="244.88"/>
<use href="#d" x="467.26" y="245.48"/>
<use href="#d" x="468.57" y="246.07"/>
<use href="#d" x="469.85" y="246.65"/>
<use href="#d" x="471.11" y="247.21"/>
<use href="#d" x="472.35" y="247.77"/>
<use href="#d" x="473.57" y="248.32"/>
<use href="#d" x="474.77" y="248.86"/>
<use href="#d" x="475.95" y="249.39"/>
<use href="#d" x="477.11" y="249.91"/>
<use href="#d" x="478.25" y="250.42"/>
<use href="#d" x="479.37" y="250.92"/>
<use href="#d" x="480.48" y="251.42"/>
<use href="#d" x="481.57" y="251.9"/>
<use href="#d" x="482.64" y="252.38"/>
<use href="#d" x="483.7" y="252.86"/>
<use href="#d" x="484.74" y="253.32"/>
<use href="#d" x="485.77" y="253.78"/>
<use href="#d" x="486.78" y="254.23"/>
<use href="#d" x="487.77" y="254.68"/>
<use href="#d" x="488.76" y="255.12"/>
<use href="#d" x="489.73" y="255.55"/>
<use href="#d" x="490.69" y="255.98"/>
<use href="#d" x="491.63" y="256.4"/>
<use href="#d" x="492.56" y="256.82"/>
<use href="#d" x="493.48" y="257.23"/>
<use href="#d" x="494.39" y="257.63"/>
<use href="#d" x="495.29" y="258.03"/>
<use href="#d" x="496.17" y="258.42"/>
<use href="#d" x="497.05" y="258.81"/>
<use href="#d" x="497.91" y="259.2"/>
<use href="#d" x="498.77" y="259.58"/>
<use href="#d" x="499.61" y="259.95"/>
<use href="#d" x="500.44" y="260.32"/>
<use href="#d" x="501.27" y="260.69"/>
<use href="#d" x="502.08" y="261.05"/>
<use href="#d" x="502.89" y="261.4"/>
<use href="#d" x="503.69" y="261.76"/>
<use href="#d" x="504.47" y="262.1"/>
<use href="#d" x="505.25" y="262.45"/>
<use href="#d" x="506.02" y="262.79"/>
<use href="#d" x="506.79" y="263.12"/>
<use href="#d" x="507.54" y="263.46"/>
<use href="#d" x="508.29" y="263.79"/>
<use href="#d" x="509.03" y="264.11"/>
<use href="#d" x="509.76" y="264.43"/>
<use href="#d" x="510.48" y="264.75"/>
<use href="#d" x="511.2" y="265.07"/>
<use href="#d" x="511.91" y="265.38"/>
<use href="#d" x="512.61" y="265.69"/>
<use href="#d" x="513.31" y="265.99"/>
<use href="#d" x="514" y="266.29"/>
<use href="#d" x="514.68" y="266.59"/>
<use href="#d" x="515.36" y="266.89"/>
<use href="#d" x="516.02" y="267.18"/>
<use href="#d" x="516.69" y="267.47"/>
<use href="#d" x="517.35" y="267.76"/>
<use href="#d" x="518" y="268.04"/>
<use href="#d" x="518.64" y="268.32"/>
<use href="#d" x="519.28" y="268.6"/>
<use href="#d" x="519.92" y="268.87"/>
<use href="#d" x="520.54" y="269.15"/>
<use href="#d" x="521.17" y="269.42"/>
<use href="#d" x="521.78" y="269.69"/>
<use href="#d" x="522.4" y="269.95"/>
<use href="#d" x="523" y="270.21"/>
<use href="#d" x="523.6" y="270.47"/>
<use href="#d" x="524.2" y="270.73"/>
<use href="#d" x="524.79" y="270.99"/>
<use href="#d" x="525.38" y="271.24"/>
<use href="#d" x="525.96" y="271.49"/>
<use href="#d" x="526.54" y="271.74"/>
<use href="#d" x="527.11" y="271.99"/>
<use href="#d" x="527.68" y="272.23"/>
<use href="#d" x="528.24" y="272.48"/>
<use href="#d" x="528.8" y="272.72"/>
<use href="#d" x="529.36" y="272.95"/>
<use href="#d" x="529.91" y="273.19"/>
<use href="#d" x="530.46" y="273.42"/>
<use href="#d" x="531" y="273.66"/>
<use href="#d" x="531.54" y="273.89"/>
<use href="#d" x="532.07" y="274.12"/>
<use href="#d" x="532.6" y="274.34"/>
<use href="#d" x="533.13" y="274.57"/>
<use href="#d" x="533.65" y="274.79"/>
<use href="#d" x="534.17" y="275.01"/>
<use href="#d" x="534.68" y="275.23"/>
<use href="#d" x="535.19" y="275.45"/>
<use href="#d" x="535.7" y="275.66"/>
<use href="#d" x="536.21" y="275.88"/>
<use href="#d" x="536.71" y="276.09"/>
<use href="#d" x="537.2" y="276.3"/>
<use href="#d" x="537.7" y="276.51"/>
<use href="#d" x="538.19" y="276.72"/>
<use href="#d" x="538.67" y="276.92"/>
<use href="#d" x="539.16" y="277.13"/>
<use href="#d" x="539.64" y="277.33"/>
<use href="#d" x="540.11" y="277.53"/>
<use href="#d" x="540.59" y="277.73"/>
<use href="#d" x="541.06" y="277.93"/>
<use href="#d" x="541.53" y="278.12"/>
<use href="#d" x="541.99" y="278.32"/>
<use href="#d" x="542.45" y="278.51"/>
<use href="#d" x="542.91" y="278.71"/>
<use href="#d" x="543.37" y="278.9"/>
<use href="#d" x="543.82" y="279.09"/>
<use href="#d" x="544.27" y="279.28"/>
<use href="#d" x="544.72" y="279.46"/>
<use href="#d" x="545.16" y="279.65"/>
<use href="#d" x="545.6" y="279.83"/>
<use href="#d" x="546.04" y="280.01"/>
<use href="#d" x="546.48" y="280.2"/>
<use href="#d" x="546.91" y="280.38"/>
<use href="#d" x="547.34" y="280.56"/>
<use href="#d" x="547.77" y="280.73"/>
<use href="#d" x="548.2" y="280.91"/>
<use href="#d" x="548.62" y="281.09"/>
<use href="#d" x="549.04" y="281.26"/>
<use href="#d" x="549.46" y="281.43"/>
<use href="#d" x="549.87" y="281.61"/>
<use href="#d" x="550.29" y="281.78"/>
<use href="#d" x="550.7" y="281.95"/>
<use href="#d" x="551.11" y="282.11"/>
<use href="#d" x="551.51" y="282.28"/>
<use href="#d" x="551.92" y="282.45"/>
<use href="#d" x="552.32" y="282.61"/>
<use href="#d" x="552.72" y="282.78"/>
<use href="#d" x="553.12" y="282.94"/>
<use href="#d" x="553.51" y="283.1"/>
<use href="#d" x="553.9" y="283.26"/>
<use href="#d" x="554.29" y="283.42"/>
<use href="#d" x="554.68" y="283.58"/>
<use href="#d" x="555.07" y="283.74"/>
<use href="#d" x="555.45" y="283.9"/>
<use href="#d" x="555.84" y="284.05"/>
<use href="#d" x="556.22" y="284.21"/>
<use href="#d" x="556.6" y="284.36"/>
<use href="#d" x="556.97" y="284.52"/>
<use href="#d" x="557.35" y="284.67"/>
<use href="#d" x="557.72" y="284.82"/>
<use href="#d" x="558.09" y="284.97"/>
<use href="#d" x="558.46" y="285.12"/>
<use href="#d" x="558.82" y="285.27"/>
<use href="#d" x="559.19" y="285.42"/>
<use href="#d" x="559.55" y="285.56"/>
<use href="#d" x="559.91" y="285.71"/>
<use href="#d" x="560.27" y="285.85"/>
<use href="#d" x="560.63" y="286"/>
<use href="#d" x="560.98" y="286.14"/>
<use href="#d" x="561.34" y="286.28"/>
<use href="#d" x="561.69" y="286.43"/>
<use href="#d" x="562.04" y="286.57"/>
<use href="#d" x="562.39" y="286.71"/>
<use href="#d" x="562.74" y="286.85"/>
<use href="#d" x="563.08" y="286.98"/>
<use href="#d" x="563.43" y="287.12"/>
<use href="#d" x="563.77" y="287.26"/>
<use href="#d" x="564.11" y="287.39"/>
<use href="#d" x="564.45" y="287.53"/>
<use href="#d" x="564.78" y="287.66"/>
<use href="#d" x="565.12" y="287.8"/>
<use href="#d" x="565.45" y="287.93"/>
<use href="#d" x="565.79" y="288.06"/>
<use href="#d" x="566.12" y="288.19"/>
<use href="#d" x="566.45" y="288.33"/>
<use href="#d" x="566.77" y="288.46"/>
<use href="#d" x="567.1" y="288.58"/>
<use href="#d" x="567.43" y="288.71"/>
<use href="#d" x="567.75" y="288.84"/>
<use href="#d" x="568.07" y="288.97"/>
<use href="#d" x="568.39" y="289.1"/>
<use href="#d" x="568.71" y="289.22"/>
<use href="#d" x="569.03" y="289.35"/>
<use href="#d" x="569.34" y="289.47"/>
<use href="#d" x="569.66" y="289.59"/>
<use href="#d" x="569.97" y="289.72"/>
<use href="#d" x="570.28" y="289.84"/>
<use href="#d" x="570.6" y="289.96"/>
<use href="#d" x="570.91" y="290.08"/>
<use href="#d" x="571.21" y="290.2"/>
<use href="#d" x="571.52" y="290.32"/>
<use href="#d" x="571.83" y="290.44"/>
<use href="#d" x="572.13" y="290.56"/>
<use href="#d" x="572.43" y="290.68"/>
<use href="#d" x="572.73" y="290.8"/>
<use href="#d" x="573.03" y="290.91"/>
<use href="#d" x="573.33" y="291.03"/>
<use href="#d" x="573.63" y="291.15"/>
<use href="#d" x="573.93" y="291.26"/>
<use href="#d" x="574.22" y="291.38"/>
<use href="#d" x="574.52" y="291.49"/>
<use href="#d" x="574.81" y="291.6"/>
<use href="#d" x="575.1" y="291.72"/>
<use href="#d" x="575.39" y="291.83"/>
<use href="#d" x="575.68" y="291.94"/>
<use href="#d" x="575.97" y="292.05"/>
<use href="#d" x="576.26" y="292.16"/>
<use href="#d" x="576.54" y="292.27"/>
<use href="#d" x="576.83" y="292.38"/>
<use href="#d" x="577.11" y="292.49"/>
<use href="#d" x="577.39" y="292.6"/>
<use href="#d" x="577.67" y="292.71"/>
<use href="#d" x="577.95" y="292.82"/>
<use href="#d" x="578.23" y="292.92"/>
<use href="#d" x="578.51" y="293.03"/>
<use href="#d" x="578.79" y="293.13"/>
<use href="#d" x="579.06" y="293.24"/>
<use href="#d" x="579.34" y="293.35"/>
<use href="#d" x="579.61" y="293.45"/>
<use href="#d" x="579.89" y="293.55"/>
<use href="#d" x="580.16" y="293.66"/>
<use href="#d" x="580.43" y="293.76"/>
<use href="#d" x="580.7" y="293.86"/>
<use href="#d" x="580.97" y="293.96"/>
<use href="#d" x="581.23" y="294.07"/>
<use href="#d" x="581.5" y="294.17"/>
<use href="#d" x="581.77" y="294.27"/>
<use href="#d" x="582.03" y="294.37"/>
<use href="#d" x="582.29" y="294.47"/>
<use href="#d" x="582.56" y="294.57"/>
<use href="#d" x="582.82" y="294.66"/>
<use href="#d" x="583.08" y="294.76"/>
<use href="#d" x="583.34" y="294.86"/>
<use href="#d" x="583.6" y="294.96"/>
<use href="#d" x="583.86" y="295.05"/>
<use href="#d" x="584.11" y="295.15"/>
<use href="#d" x="584.37" y="295.25"/>
<use href="#d" x="584.62" y="295.34"/>
<use href="#d" x="584.88" y="295.44"/>
<use href="#d" x="585.13" y="295.53"/>
<use href="#d" x="585.38" y="295.63"/>
<use href="#d" x="585.63" y="295.72"/>
<use href="#d" x="585.89" y="295.81"/>
<use href="#d" x="586.14" y="295.91"/>
<use href="#d" x="586.38" y="296"/>
<use href="#d" x="586.63" y="296.09"/>
<use href="#d" x="586.88" y="296.18"/>
<use href="#d" x="587.13" y="296.28"/>
<use href="#d" x="587.37" y="296.37"/>
<use href="#d" x="587.62" y="296.46"/>
<use href="#d" x="587.86" y="296.55"/>
<use href="#d" x="588.1" y="296.64"/>
<use href="#d" x="588.34" y="296.73"/>
<use href="#d" x="588.59" y="296.82"/>
<use href="#d" x="588.83" y="296.9"/>
<use href="#d" x="589.07" y="296.99"/>
<use href="#d" x="589.31" y="297.08"/>
<use href="#d" x="589.54" y="297.17"/>
<use href="#d" x="589.78" y="297.26"/>
<use href="#d" x="590.02" y="297.34"/>
<use href="#d" x="590.25" y="297.43"/>
<use href="#d" x="590.49" y="297.52"/>
<use href="#d" x="590.72" y="297.6"/>
<use href="#d" x="590.96" y="297.69"/>
<use href="#d" x="591.19" y="297.77"/>
<use href="#d" x="591.42" y="297.86"/>
<use href="#d" x="591.65" y="297.94"/>
<use href="#d" x="591.88" y="298.02"/>
<use href="#d" x="592.11" y="298.11"/>
<use href="#d" x="592.34" y="298.19"/>
<use href="#d" x="592.57" y="298.27"/>
<use href="#d" x="592.8" y="298.36"/>
<use href="#d" x="593.02" y="298.44"/>
<use href="#d" x="593.25" y="298.52"/>
<use href="#d" x="593.47" y="298.6"/>
<use href="#d" x="593.7" y="298.68"/>
<use href="#d" x="593.92" y="298.76"/>
<use href="#d" x="594.15" y="298.85"/>
<use href="#d" x="594.37" y="298.93"/>
<use href="#d" x="594.59" y="299.01"/>
<use href="#d" x="594.81" y="299.09"/>
<use href="#d" x="595.03" y="299.16"/>
<use href="#d" x="595.25" y="299.24"/>
<use href="#d" x="595.47" y="299.32"/>
<use href="#d" x="595.69" y="299.4"/>
<use href="#d" x="595.91" y="299.48"/>
<use href="#d" x="596.12" y="299.56"/>
<use href="#d" x="596.34" y="299.63"/>
<use href="#d" x="596.56" y="299.71"/>
<use href="#d" x="596.77" y="299.79"/>
<use href="#d" x="596.99" y="299.86"/>
<use href="#d" x="597.2" y="299.94"/>
<use href="#d" x="597.41" y="300.02"/>
<use href="#d" x="597.62" y="300.09"/>
<use href="#d" x="597.84" y="300.17"/>
<use href="#d" x="598.05" y="300.24"/>
<use href="#d" x="598.26" y="300.32"/>
<use href="#d" x="598.47" y="300.39"/>
<use href="#d" x="598.68" y="300.47"/>
<use href="#d" x="598.89" y="300.54"/>
<use href="#d" x="599.1" y="300.61"/>
<use href="#d" x="599.3" y="300.69"/>
<use href="#d" x="599.51" y="300.76"/>
<use href="#d" x="599.72" y="300.83"/>
<use href="#d" x="599.92" y="300.9"/>
<use href="#d" x="600.13" y="300.98"/>
<use href="#d" x="600.33" y="301.05"/>
<use href="#d" x="600.54" y="301.12"/>
<use href="#d" x="600.74" y="301.19"/>
<use href="#d" x="600.94" y="301.26"/>
<use href="#d" x="601.14" y="301.33"/>
<use href="#d" x="601.35" y="301.4"/>
<use href="#d" x="601.55" y="301.47"/>
<use href="#d" x="601.75" y="301.54"/>
<use href="#d" x="601.95" y="301.61"/>
<use href="#d" x="602.15" y="301.68"/>
<use href="#d" x="602.35" y="301.75"/>
<use href="#d" x="602.54" y="301.82"/>
<use href="#d" x="602.74" y="301.89"/>
<use href="#d" x="602.94" y="301.96"/>
<use href="#d" x="603.14" y="302.03"/>
<use href="#d" x="603.33" y="302.1"/>
<use href="#d" x="603.53" y="302.16"/>
<use href="#d" x="603.72" y="302.23"/>
<use href="#d" x="603.92" y="302.3"/>
<use href="#d" x="604.11" y="302.37"/>
<use href="#d" x="604.31" y="302.43"/>
<use href="#d" x="604.5" y="302.5"/>
<use href="#d" x="604.69" y="302.57"/>
<use href="#d" x="604.88" y="302.63"/>
<use href="#d" x="605.07" y="302.7"/>
<use href="#d" x="605.27" y="302.76"/>
<use href="#d" x="605.46" y="302.83"/>
<use href="#d" x="605.65" y="302.89"/>
<use href="#d" x="605.84" y="302.96"/>
<use href="#d" x="606.02" y="303.02"/>
<use href="#d" x="606.21" y="303.09"/>
<use href="#d" x="606.4" y="303.15"/>
<use href="#d" x="606.59" y="303.22"/>
<use href="#d" x="606.77" y="303.28"/>
<use href="#d" x="606.96" y="303.34"/>
<use href="#d" x="607.15" y="303.41"/>
<use href="#d" x="607.33" y="303.47"/>
<use href="#d" x="607.52" y="303.53"/>
<use href="#d" x="607.7" y="303.59"/>
<use href="#d" x="607.89" y="303.66"/>
<use href="#d" x="608.07" y="303.72"/>
<use href="#d" x="608.25" y="303.78"/>
<use href="#d" x="608.44" y="303.84"/>
<use href="#d" x="608.62" y="303.9"/>
<use href="#d" x="608.8" y="303.97"/>
<use href="#d" x="608.98" y="304.03"/>
<use href="#d" x="609.16" y="304.09"/>
<use href="#d" x="609.34" y="304.15"/>
<use href="#d" x="609.52" y="304.21"/>
<use href="#d" x="609.7" y="304.27"/>
<use href="#d" x="609.88" y="304.33"/>
<use href="#d" x="610.06" y="304.39"/>
<use href="#d" x="610.24" y="304.45"/>
<use href="#d" x="610.41" y="304.51"/>
<use href="#d" x="610.59" y="304.57"/>
<use href="#d" x="610.77" y="304.63"/>
<use href="#d" x="610.94" y="304.68"/>
<use href="#d" x="611.12" y="304.74"/>
<use href="#d" x="611.3" y="304.8"/>
<use href="#d" x="611.47" y="304.86"/>
<use href="#d" x="611.64" y="304.92"/>
<use href="#d" x="611.82" y="304.98"/>
<use href="#d" x="611.99" y="305.03"/>
<use href="#d" x="612.17" y="305.09"/>
<use href="#d" x="612.34" y="305.15"/>
<use href="#d" x="612.51" y="305.21"/>
<use href="#d" x="612.68" y="305.26"/>
<use href="#d" x="612.86" y="305.32"/>
<use href="#d" x="613.03" y="305.38"/>
<use href="#d" x="613.2" y="305.43"/>
<use href="#d" x="613.37" y="305.49"/>
<use href="#d" x="613.54" y="305.54"/>
<use href="#d" x="613.71" y="305.6"/>
<use href="#d" x="613.88" y="305.66"/>
<use href="#d" x="614.05" y="305.71"/>
<use href="#d" x="614.21" y="305.77"/>
<use href="#d" x="614.38" y="305.82"/>
<use href="#d" x="614.55" y="305.88"/>
<use href="#d" x="614.72" y="305.93"/>
<use href="#d" x="614.88" y="305.99"/>
<use href="#d" x="615.05" y="306.04"/>
<use href="#d" x="615.22" y="306.09"/>
<use href="#d" x="615.38" y="306.15"/>
<use href="#d" x="615.55" y="306.2"/>
<use href="#d" x="615.71" y="306.25"/>
<use href="#d" x="615.88" y="306.31"/>
<use href="#d" x="616.04" y="306.36"/>
<use href="#d" x="616.2" y="306.41"/>
<use href="#d" x="616.37" y="306.47"/>
<use href="#d" x="616.53" y="306.52"/>
<use href="#d" x="616.69" y="306.57"/>
<use href="#d" x="616.85" y="306.63"/>
<use href="#d" x="617.02" y="306.68"/>
<use href="#d" x="617.18" y="306.73"/>
<use href="#d" x="617.34" y="306.78"/>
<use href="#d" x="617.5" y="306.83"/>
<use href="#d" x="617.66" y="306.89"/>
<use href="#d" x="617.82" y="306.94"/>
<use href="#d" x="617.98" y="306.99"/>
<use href="#d" x="618.14" y="307.04"/>
<use href="#d" x="618.3" y="307.09"/>
<use href="#d" x="618.46" y="307.14"/>
<use href="#d" x="618.62" y="307.19"/>
<use href="#d" x="618.77" y="307.24"/>
<use href="#d" x="618.93" y="307.29"/>
<use href="#d" x="619.09" y="307.34"/>
<use href="#d" x="619.25" y="307.39"/>
<use href="#d" x="619.4" y="307.44"/>
<use href="#d" x="619.56" y="307.49"/>
<use href="#d" x="619.71" y="307.54"/>
<use href="#d" x="619.87" y="307.59"/>
<use href="#d" x="620.02" y="307.64"/>
<use href="#d" x="620.18" y="307.69"/>
<use href="#d" x="620.33" y="307.74"/>
<use href="#d" x="620.49" y="307.79"/>
<use href="#d" x="620.64" y="307.84"/>
<use href="#d" x="620.8" y="307.88"/>
<use href="#d" x="620.95" y="307.93"/>
<use href="#d" x="621.1" y="307.98"/>
<use href="#d" x="621.25" y="308.03"/>
<use href="#d" x="621.41" y="308.08"/>
<use href="#d" x="621.56" y="308.12"/>
<use href="#d" x="621.71" y="308.17"/>
<use href="#d" x="621.86" y="308.22"/>
<use href="#d" x="622.01" y="308.27"/>
<use href="#d" x="622.16" y="308.31"/>
<use href="#d" x="622.31" y="308.36"/>
<use href="#d" x="622.46" y="308.41"/>
<use href="#d" x="622.61" y="308.45"/>
<use href="#d" x="622.76" y="308.5"/>
<use href="#d" x="622.91" y="308.55"/>
<use href="#d" x="623.06" y="308.59"/>
<use href="#d" x="623.21" y="308.64"/>
<use href="#d" x="623.36" y="308.69"/>
<use href="#d" x="623.5" y="308.73"/>
<use href="#d" x="623.65" y="308.78"/>
<use href="#d" x="623.8" y="308.82"/>
<use href="#d" x="623.95" y="308.87"/>
<use href="#d" x="624.09" y="308.91"/>
<use href="#d" x="624.24" y="308.96"/>
<use href="#d" x="624.38" y="309"/>
<use href="#d" x="624.53" y="309.05"/>
<use href="#d" x="624.68" y="309.09"/>
<use href="#d" x="624.82" y="309.14"/>
<use href="#d" x="624.97" y="309.18"/>
<use href="#d" x="625.11" y="309.23"/>
<use href="#d" x="625.25" y="309.27"/>
<use href="#d" x="625.4" y="309.32"/>
<use href="#d" x="625.54" y="309.36"/>
<use href="#d" x="625.69" y="309.4"/>
<use href="#d" x="625.83" y="309.45"/>
<use href="#d" x="625.97" y="309.49"/>
<use href="#d" x="626.11" y="309.53"/>
<use href="#d" x="626.26" y="309.58"/>
<use href="#d" x="626.4" y="309.62"/>
<use href="#d" x="626.54" y="309.66"/>
<use href="#d" x="626.68" y="309.71"/>
<use href="#d" x="626.82" y="309.75"/>
<use href="#d" x="626.96" y="309.79"/>
<use href="#d" x="627.1" y="309.84"/>
<use href="#d" x="627.24" y="309.88"/>
<use href="#d" x="627.38" y="309.92"/>
<use href="#d" x="627.52" y="309.96"/>
<use href="#d" x="627.66" y="310"/>
<use href="#d" x="627.8" y="310.05"/>
<use href="#d" x="627.94" y="310.09"/>
<use href="#d" x="628.08" y="310.13"/>
<use href="#d" x="628.22" y="310.17"/>
<use href="#d" x="628.36" y="310.21"/>
<use href="#d" x="628.49" y="310.25"/>
<use href="#d" x="628.63" y="310.3"/>
<use href="#d" x="628.77" y="310.34"/>
<use href="#d" x="628.9" y="310.38"/>
<use href="#d" x="629.04" y="310.42"/>
<use href="#d" x="629.18" y="310.46"/>
<use href="#d" x="629.31" y="310.5"/>
<use href="#d" x="629.45" y="310.54"/>
<use href="#d" x="629.59" y="310.58"/>
<use href="#d" x="629.72" y="310.62"/>
<use href="#d" x="629.86" y="310.66"/>
<use href="#d" x="629.99" y="310.7"/>
<use href="#d" x="630.13" y="310.74"/>
<use href="#d" x="630.26" y="310.78"/>
<use href="#d" x="630.39" y="310.82"/>
<use href="#d" x="630.53" y="310.86"/>
<use href="#d" x="630.66" y="310.9"/>
<use href="#d" x="630.8" y="310.94"/>
<use href="#d" x="630.93" y="310.98"/>
<use href="#d" x="631.06" y="311.02"/>
<use href="#d" x="631.19" y="311.06"/>
<use href="#d" x="631.33" y="311.1"/>
<use href="#d" x="631.46" y="311.14"/>
<use href="#d" x="631.59" y="311.18"/>
<use href="#d" x="631.72" y="311.21"/>
<use href="#d" x="631.85" y="311.25"/>
<use href="#d" x="631.99" y="311.29"/>
<use href="#d" x="632.12" y="311.33"/>
<use href="#d" x="632.25" y="311.37"/>
<use href="#d" x="632.38" y="311.41"/>
<use href="#d" x="632.51" y="311.44"/>
<use href="#d" x="632.64" y="311.48"/>
<use href="#d" x="632.77" y="311.52"/>
<use href="#d" x="632.9" y="311.56"/>
<use href="#d" x="633.03" y="311.59"/>
<use href="#d" x="633.16" y="311.63"/>
<use href="#d" x="633.28" y="311.67"/>
<use href="#d" x="633.41" y="311.71"/>
<use href="#d" x="633.54" y="311.74"/>
<use href="#d" x="633.67" y="311.78"/>
<use href="#d" x="633.8" y="311.82"/>
<use href="#d" x="633.93" y="311.86"/>
<use href="#d" x="634.05" y="311.89"/>
<use href="#d" x="634.18" y="311.93"/>
<use href="#d" x="634.31" y="311.97"/>
<use href="#d" x="634.43" y="312"/>
<use href="#d" x="634.56" y="312.04"/>
<use href="#d" x="634.69" y="312.07"/>
<use href="#d" x="634.81" y="312.11"/>
<use href="#d" x="634.94" y="312.15"/>
<use href="#d" x="635.06" y="312.18"/>
<use href="#d" x="635.19" y="312.22"/>
<use href="#d" x="635.31" y="312.26"/>
<use href="#d" x="635.44" y="312.29"/>
<use href="#d" x="635.56" y="312.33"/>
<use href="#d" x="635.69" y="312.36"/>
<use href="#d" x="635.81" y="312.4"/>
<use href="#d" x="635.94" y="312.43"/>
<use href="#d" x="636.06" y="312.47"/>
<use href="#d" x="636.19" y="312.5"/>
<use href="#d" x="636.31" y="312.54"/>
<use href="#d" x="636.43" y="312.57"/>
<use href="#d" x="636.55" y="312.61"/>
<use href="#d" x="636.68" y="312.64"/>
<use href="#d" x="636.8" y="312.68"/>
<use href="#d" x="636.92" y="312.71"/>
<use href="#d" x="637.04" y="312.75"/>
<use href="#d" x="637.17" y="312.78"/>
<use href="#d" x="637.29" y="312.82"/>
<use href="#d" x="637.41" y="312.85"/>
<use href="#d" x="637.53" y="312.88"/>
<use href="#d" x="637.65" y="312.92"/>
<use href="#d" x="637.77" y="312.95"/>
<use href="#d" x="637.89" y="312.99"/>
<use href="#d" x="638.02" y="313.02"/>
<use href="#d" x="638.14" y="313.05"/>
<use href="#d" x="638.26" y="313.09"/>
<use href="#d" x="638.38" y="313.12"/>
<use href="#d" x="638.5" y="313.15"/>
<use href="#d" x="638.61" y="313.19"/>
<use href="#d" x="638.73" y="313.22"/>
<use href="#d" x="638.85" y="313.25"/>
<use href="#d" x="638.97" y="313.29"/>
</g>

<rect x="522.5" y="52.5" width="11" height="11" fill="rgba(192,0,0,0.65)" stroke="rgba(192,0,0,0.7)" stroke-width="1"/>
<path d="M528 84.3L534 96.1H522Z" fill="#89a451"/>
<path d="M522.5 117L533.5 128.5M533.5 117L522.5 128.5M528 117V128.7" stroke="#7030a0" stroke-width="1" fill="none" opacity="0.6"/>
<path d="M528 149.5L534 155.3L528 161.1L522 155.3Z" fill="#3a0ffa"/>

<g font-family="'Liberation Sans', sans-serif" fill="#000" opacity="0.999">
<text transform="matrix(1.0350 0 0 0.9720 23.87 61.80)" font-size="20">1,000</text>
<text transform="matrix(1.0350 0 0 0.9720 41.56 177.80)" font-size="20">100</text>
<text transform="matrix(1.0350 0 0 0.9720 52.55 293.90)" font-size="20">10</text>
<text transform="matrix(1.0350 0 0 0.9720 63.45 409.90)" font-size="20">1</text>
<text transform="matrix(1.0350 0 0 0.9720 80.87 439.50)" font-size="20">0.1</text>
<text transform="matrix(1.0350 0 0 0.9720 254.60 439.50)" font-size="20">1</text>
<text transform="matrix(1.0350 0 0 0.9720 413.15 439.50)" font-size="20">10</text>
<text transform="matrix(1.0350 0 0 0.9720 571.65 439.50)" font-size="20">100</text>
<text transform="matrix(1.0350 0 0 0.9720 539.07 64.30)" font-size="20">2000mg/L</text>
<text transform="matrix(1.0350 0 0 0.9720 539.25 97.30)" font-size="20">1500mg/L</text>
<text transform="matrix(1.0350 0 0 0.9720 539.37 129.60)" font-size="20">700mg/L</text>
<text transform="matrix(1.0350 0 0 0.9720 539.57 161.60)" font-size="20">500mg/L</text>
</g>
<g font-family="'Liberation Sans', sans-serif" font-weight="bold" fill="#000" opacity="0.999">
<text transform="matrix(0.9640 0 0 0.9700 316.82 470.50)" font-size="20">Shear rate (s</text>
<text transform="matrix(0.6650 0 0 0.6450 432.87 465.00)" font-size="20">-</text>
<text transform="matrix(0.6000 0 0 0.6450 437.92 463.90)" font-size="20">1</text>
<text transform="matrix(0.8500 0 0 1.0000 446.12 470.50)" font-size="20">)</text>
<text transform="translate(24.6 292.28) rotate(-90) scale(0.9205 0.9600)" font-size="20">Viscosity (cP)</text>
</g>
</svg>
</body></html>
